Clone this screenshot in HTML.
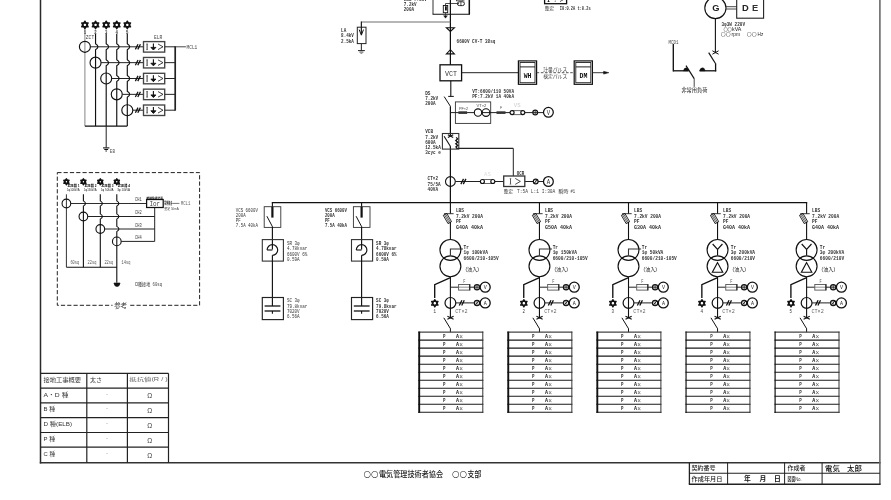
<!DOCTYPE html>
<html lang="ja"><head><meta charset="utf-8"><title>単線結線図</title>
<style>
html,body{margin:0;padding:0;background:#fff;}
body{width:891px;height:500px;overflow:hidden;}
svg{display:block;filter:grayscale(1);}
text.m{font-family:"Liberation Mono","Noto Sans CJK JP",monospace;}
text.j{font-family:"Liberation Sans","Noto Sans CJK JP",sans-serif;}
text.s{font-family:"Liberation Sans","Noto Sans CJK JP",sans-serif;}
text.c{font-family:"Noto Sans CJK JP","Liberation Sans",sans-serif;}
text.d{font-family:"DejaVu Sans","Noto Sans CJK JP",sans-serif;}
</style></head><body>
<svg width="891" height="500" viewBox="0 0 891 500" shape-rendering="geometricPrecision">
<rect x="0" y="0" width="891" height="500" fill="#fff"/>
<g opacity="0.999">
<line x1="40.5" y1="-2" x2="40.5" y2="463.4" stroke="#2a2a2a" stroke-width="1.5"/>
<line x1="39.8" y1="462.7" x2="880.6" y2="462.7" stroke="#333" stroke-width="1.45"/>
<line x1="879.9" y1="-2" x2="879.9" y2="484.6" stroke="#6a6a6a" stroke-width="1.6"/>
<line x1="689.4" y1="462.7" x2="689.4" y2="484.2" stroke="#222" stroke-width="1.3"/>
<line x1="727.6" y1="462.7" x2="727.6" y2="484.2" stroke="#222" stroke-width="1"/>
<line x1="784.6" y1="462.7" x2="784.6" y2="484.2" stroke="#222" stroke-width="1"/>
<line x1="822.1" y1="462.7" x2="822.1" y2="484.2" stroke="#222" stroke-width="1"/>
<line x1="689.4" y1="473.3" x2="879.9" y2="473.3" stroke="#222" stroke-width="1.1"/>
<line x1="688.8" y1="484.2" x2="880.6" y2="484.2" stroke="#222" stroke-width="1.4"/>
<text class="j" x="691.5" y="470.32" font-size="5.6" fill="#222" font-weight="500" textLength="24" lengthAdjust="spacingAndGlyphs">契約番号</text>
<text class="j" x="691.5" y="481.02" font-size="5.6" fill="#222" font-weight="500" textLength="31" lengthAdjust="spacingAndGlyphs">作成年月日</text>
<text class="j" x="744" y="481.45" font-size="6.8" fill="#111" font-weight="bold">年</text>
<text class="j" x="759.5" y="481.45" font-size="6.8" fill="#111" font-weight="bold">月</text>
<text class="j" x="774" y="481.45" font-size="6.8" fill="#111" font-weight="bold">日</text>
<text class="j" x="787.5" y="470.32" font-size="5.6" fill="#222" font-weight="500" textLength="18" lengthAdjust="spacingAndGlyphs">作成者</text>
<text class="j" x="787.5" y="480.87" font-size="5.2" fill="#222" font-weight="500" textLength="14" lengthAdjust="spacingAndGlyphs">図面No.</text>
<text class="j" x="825" y="470.86" font-size="7.4" fill="#111" font-weight="500">電気</text>
<text class="j" x="847" y="470.86" font-size="7.4" fill="#111" font-weight="500">太郎</text>
<text class="d" x="363.4" y="477.36" font-size="9.6" fill="#222" textLength="15.2" lengthAdjust="spacingAndGlyphs">○○</text>
<text class="c" x="379" y="477.14" font-size="7.9" fill="#1a1a1a" font-weight="500" textLength="64" lengthAdjust="spacingAndGlyphs">電気管理技術者協会</text>
<text class="d" x="452" y="477.36" font-size="9.6" fill="#222" textLength="15.2" lengthAdjust="spacingAndGlyphs">○○</text>
<text class="c" x="467.6" y="477.14" font-size="7.9" fill="#1a1a1a" font-weight="500" textLength="13.8" lengthAdjust="spacingAndGlyphs">支部</text>
<line x1="40.5" y1="373.3" x2="168.5" y2="373.3" stroke="#222" stroke-width="1.2"/>
<line x1="40.5" y1="388.1" x2="168.5" y2="388.1" stroke="#222" stroke-width="1.2"/>
<line x1="40.5" y1="402.9" x2="168.5" y2="402.9" stroke="#222" stroke-width="1.2"/>
<line x1="40.5" y1="417.6" x2="168.5" y2="417.6" stroke="#222" stroke-width="1.2"/>
<line x1="40.5" y1="432.5" x2="168.5" y2="432.5" stroke="#222" stroke-width="1.2"/>
<line x1="40.5" y1="447.2" x2="168.5" y2="447.2" stroke="#222" stroke-width="1.2"/>
<line x1="86.8" y1="373.3" x2="86.8" y2="462.7" stroke="#222" stroke-width="1.2"/>
<line x1="127.4" y1="373.3" x2="127.4" y2="462.7" stroke="#222" stroke-width="1.2"/>
<line x1="168.5" y1="373.3" x2="168.5" y2="462.7" stroke="#222" stroke-width="1.2"/>
<text class="j" x="43.6" y="382.22" font-size="5.6" fill="#333" textLength="37.5" lengthAdjust="spacingAndGlyphs">接地工事概要</text>
<text class="j" x="90" y="382.22" font-size="5.6" fill="#333" textLength="12" lengthAdjust="spacingAndGlyphs">太さ</text>
<text class="j" x="129.3" y="381.16" font-size="4.9" fill="#666" textLength="38.5" lengthAdjust="spacingAndGlyphs">抵抗値(R / )</text>
<text class="j" x="43.6" y="396.72" font-size="5.6" fill="#333" textLength="24.8" lengthAdjust="spacingAndGlyphs">A・D 種</text>
<text class="j" x="107.1" y="396.74" font-size="4" fill="#666" text-anchor="middle">・</text>
<text class="s" x="149.7" y="398.28" font-size="6.6" fill="#444" text-anchor="middle">Ω</text>
<text class="j" x="43.6" y="411.47" font-size="5.6" fill="#333" textLength="11.6" lengthAdjust="spacingAndGlyphs">B 種</text>
<text class="j" x="107.1" y="411.49" font-size="4" fill="#666" text-anchor="middle">・</text>
<text class="s" x="149.7" y="413.03" font-size="6.6" fill="#444" text-anchor="middle">Ω</text>
<text class="j" x="43.6" y="426.27" font-size="5.6" fill="#333" textLength="28.5" lengthAdjust="spacingAndGlyphs">D 種(ELB)</text>
<text class="j" x="107.1" y="426.29" font-size="4" fill="#666" text-anchor="middle">・</text>
<text class="s" x="149.7" y="427.83" font-size="6.6" fill="#444" text-anchor="middle">Ω</text>
<text class="j" x="43.6" y="441.07" font-size="5.6" fill="#333" textLength="11.6" lengthAdjust="spacingAndGlyphs">P 種</text>
<text class="j" x="107.1" y="441.09" font-size="4" fill="#666" text-anchor="middle">・</text>
<text class="s" x="149.7" y="442.63" font-size="6.6" fill="#444" text-anchor="middle">Ω</text>
<text class="j" x="43.6" y="456.17" font-size="5.6" fill="#333" textLength="11.6" lengthAdjust="spacingAndGlyphs">C 種</text>
<text class="j" x="107.1" y="456.19" font-size="4" fill="#666" text-anchor="middle">・</text>
<text class="s" x="149.7" y="457.73" font-size="6.6" fill="#444" text-anchor="middle">Ω</text>
<polygon points="84.9,21.15 88.15,26.77 81.65,26.77" fill="none" stroke="#111" stroke-width="1.4" stroke-linejoin="round"/>
<polygon points="84.9,28.65 81.65,23.02 88.15,23.02" fill="none" stroke="#111" stroke-width="1.4" stroke-linejoin="round"/>
<text class="m" x="83.7" y="33.55" font-size="5" textLength="2.4" lengthAdjust="spacingAndGlyphs" fill="#333" font-weight="bold">1</text>
<line x1="84.9" y1="29" x2="84.9" y2="126.1" stroke="#666" stroke-width="0.8"/>
<circle cx="84.9" cy="46.8" r="5.5" fill="none" stroke="#111" stroke-width="1.15"/>
<line x1="90.4" y1="46.8" x2="143.2" y2="46.8" stroke="#222" stroke-width="1"/>
<line x1="135.4" y1="49.4" x2="138" y2="44.2" stroke="#111" stroke-width="1.3"/>
<line x1="137.8" y1="49.4" x2="140.4" y2="44.2" stroke="#111" stroke-width="1.3"/>
<rect x="143.5" y="41.6" width="21.2" height="10.5" fill="none" stroke="#444" stroke-width="1.35"/>
<line x1="147.1" y1="44" x2="147.1" y2="49.6" stroke="#222" stroke-width="0.9"/>
<line x1="146.2" y1="44" x2="148" y2="44" stroke="#333" stroke-width="0.6"/>
<line x1="146.2" y1="49.6" x2="148" y2="49.6" stroke="#333" stroke-width="0.6"/>
<line x1="153.4" y1="43.5" x2="153.4" y2="49.2" stroke="#111" stroke-width="1.1"/>
<polygon points="150.9,47.4 153.4,50 155.9,47.4" fill="#111" stroke="#111" stroke-width="0.9"/>
<polyline points="158,44 163,46.8 158,49.6" fill="none" stroke="#222" stroke-width="0.85"/>
<line x1="164.8" y1="46.8" x2="175" y2="46.8" stroke="#222" stroke-width="1"/>
<polygon points="95.55,21.15 98.8,26.77 92.3,26.77" fill="none" stroke="#111" stroke-width="1.4" stroke-linejoin="round"/>
<polygon points="95.55,28.65 92.3,23.02 98.8,23.02" fill="none" stroke="#111" stroke-width="1.4" stroke-linejoin="round"/>
<text class="m" x="94.35" y="33.55" font-size="5" textLength="2.4" lengthAdjust="spacingAndGlyphs" fill="#333" font-weight="bold">2</text>
<path d="M95.55 33.7 L95.55 43.8 Q100.35 46.8 95.55 49.8 L95.55 126.1" fill="none" stroke="#111" stroke-width="1.15"/>
<circle cx="95.55" cy="62.65" r="5.5" fill="none" stroke="#111" stroke-width="1.15"/>
<line x1="101.05" y1="62.65" x2="143.2" y2="62.65" stroke="#222" stroke-width="1"/>
<line x1="135.4" y1="65.25" x2="138" y2="60.05" stroke="#111" stroke-width="1.3"/>
<line x1="137.8" y1="65.25" x2="140.4" y2="60.05" stroke="#111" stroke-width="1.3"/>
<rect x="143.5" y="57.45" width="21.2" height="10.5" fill="none" stroke="#444" stroke-width="1.35"/>
<line x1="147.1" y1="59.85" x2="147.1" y2="65.45" stroke="#222" stroke-width="0.9"/>
<line x1="146.2" y1="59.85" x2="148" y2="59.85" stroke="#333" stroke-width="0.6"/>
<line x1="146.2" y1="65.45" x2="148" y2="65.45" stroke="#333" stroke-width="0.6"/>
<line x1="153.4" y1="59.35" x2="153.4" y2="65.05" stroke="#111" stroke-width="1.1"/>
<polygon points="150.9,63.25 153.4,65.85 155.9,63.25" fill="#111" stroke="#111" stroke-width="0.9"/>
<polyline points="158,59.85 163,62.65 158,65.45" fill="none" stroke="#222" stroke-width="0.85"/>
<line x1="164.8" y1="62.65" x2="175" y2="62.65" stroke="#222" stroke-width="1"/>
<polygon points="106.2,21.15 109.45,26.77 102.95,26.77" fill="none" stroke="#111" stroke-width="1.4" stroke-linejoin="round"/>
<polygon points="106.2,28.65 102.95,23.02 109.45,23.02" fill="none" stroke="#111" stroke-width="1.4" stroke-linejoin="round"/>
<text class="m" x="105" y="33.55" font-size="5" textLength="2.4" lengthAdjust="spacingAndGlyphs" fill="#333" font-weight="bold">3</text>
<path d="M106.2 33.7 L106.2 43.8 Q111 46.8 106.2 49.8 L106.2 59.65 Q111 62.65 106.2 65.65 L106.2 126.1" fill="none" stroke="#111" stroke-width="1.15"/>
<circle cx="106.2" cy="78.5" r="5.5" fill="none" stroke="#111" stroke-width="1.15"/>
<line x1="111.7" y1="78.5" x2="143.2" y2="78.5" stroke="#222" stroke-width="1"/>
<line x1="135.4" y1="81.1" x2="138" y2="75.9" stroke="#111" stroke-width="1.3"/>
<line x1="137.8" y1="81.1" x2="140.4" y2="75.9" stroke="#111" stroke-width="1.3"/>
<rect x="143.5" y="73.3" width="21.2" height="10.5" fill="none" stroke="#444" stroke-width="1.35"/>
<line x1="147.1" y1="75.7" x2="147.1" y2="81.3" stroke="#222" stroke-width="0.9"/>
<line x1="146.2" y1="75.7" x2="148" y2="75.7" stroke="#333" stroke-width="0.6"/>
<line x1="146.2" y1="81.3" x2="148" y2="81.3" stroke="#333" stroke-width="0.6"/>
<line x1="153.4" y1="75.2" x2="153.4" y2="80.9" stroke="#111" stroke-width="1.1"/>
<polygon points="150.9,79.1 153.4,81.7 155.9,79.1" fill="#111" stroke="#111" stroke-width="0.9"/>
<polyline points="158,75.7 163,78.5 158,81.3" fill="none" stroke="#222" stroke-width="0.85"/>
<line x1="164.8" y1="78.5" x2="175" y2="78.5" stroke="#222" stroke-width="1"/>
<polygon points="116.75,21.15 120,26.77 113.5,26.77" fill="none" stroke="#111" stroke-width="1.4" stroke-linejoin="round"/>
<polygon points="116.75,28.65 113.5,23.02 120,23.02" fill="none" stroke="#111" stroke-width="1.4" stroke-linejoin="round"/>
<text class="m" x="115.55" y="33.55" font-size="5" textLength="2.4" lengthAdjust="spacingAndGlyphs" fill="#333" font-weight="bold">4</text>
<path d="M116.75 33.7 L116.75 43.8 Q121.55 46.8 116.75 49.8 L116.75 59.65 Q121.55 62.65 116.75 65.65 L116.75 75.5 Q121.55 78.5 116.75 81.5 L116.75 126.1" fill="none" stroke="#111" stroke-width="1.15"/>
<circle cx="116.75" cy="94.35" r="5.5" fill="none" stroke="#111" stroke-width="1.15"/>
<line x1="122.25" y1="94.35" x2="143.2" y2="94.35" stroke="#222" stroke-width="1"/>
<line x1="135.4" y1="96.95" x2="138" y2="91.75" stroke="#111" stroke-width="1.3"/>
<line x1="137.8" y1="96.95" x2="140.4" y2="91.75" stroke="#111" stroke-width="1.3"/>
<rect x="143.5" y="89.15" width="21.2" height="10.5" fill="none" stroke="#444" stroke-width="1.35"/>
<line x1="147.1" y1="91.55" x2="147.1" y2="97.15" stroke="#222" stroke-width="0.9"/>
<line x1="146.2" y1="91.55" x2="148" y2="91.55" stroke="#333" stroke-width="0.6"/>
<line x1="146.2" y1="97.15" x2="148" y2="97.15" stroke="#333" stroke-width="0.6"/>
<line x1="153.4" y1="91.05" x2="153.4" y2="96.75" stroke="#111" stroke-width="1.1"/>
<polygon points="150.9,94.95 153.4,97.55 155.9,94.95" fill="#111" stroke="#111" stroke-width="0.9"/>
<polyline points="158,91.55 163,94.35 158,97.15" fill="none" stroke="#222" stroke-width="0.85"/>
<line x1="164.8" y1="94.35" x2="175" y2="94.35" stroke="#222" stroke-width="1"/>
<polygon points="127.3,21.15 130.55,26.77 124.05,26.77" fill="none" stroke="#111" stroke-width="1.4" stroke-linejoin="round"/>
<polygon points="127.3,28.65 124.05,23.02 130.55,23.02" fill="none" stroke="#111" stroke-width="1.4" stroke-linejoin="round"/>
<text class="m" x="126.1" y="33.55" font-size="5" textLength="2.4" lengthAdjust="spacingAndGlyphs" fill="#333" font-weight="bold">5</text>
<path d="M127.3 33.7 L127.3 43.8 Q132.1 46.8 127.3 49.8 L127.3 59.65 Q132.1 62.65 127.3 65.65 L127.3 75.5 Q132.1 78.5 127.3 81.5 L127.3 91.35 Q132.1 94.35 127.3 97.35 L127.3 126.1" fill="none" stroke="#111" stroke-width="1.15"/>
<circle cx="127.3" cy="110.2" r="5.5" fill="none" stroke="#111" stroke-width="1.15"/>
<line x1="132.8" y1="110.2" x2="143.2" y2="110.2" stroke="#222" stroke-width="1"/>
<line x1="135.4" y1="112.8" x2="138" y2="107.6" stroke="#111" stroke-width="1.3"/>
<line x1="137.8" y1="112.8" x2="140.4" y2="107.6" stroke="#111" stroke-width="1.3"/>
<rect x="143.5" y="105" width="21.2" height="10.5" fill="none" stroke="#444" stroke-width="1.35"/>
<line x1="147.1" y1="107.4" x2="147.1" y2="113" stroke="#222" stroke-width="0.9"/>
<line x1="146.2" y1="107.4" x2="148" y2="107.4" stroke="#333" stroke-width="0.6"/>
<line x1="146.2" y1="113" x2="148" y2="113" stroke="#333" stroke-width="0.6"/>
<line x1="153.4" y1="106.9" x2="153.4" y2="112.6" stroke="#111" stroke-width="1.1"/>
<polygon points="150.9,110.8 153.4,113.4 155.9,110.8" fill="#111" stroke="#111" stroke-width="0.9"/>
<polyline points="158,107.4 163,110.2 158,113" fill="none" stroke="#222" stroke-width="0.85"/>
<line x1="164.8" y1="110.2" x2="175" y2="110.2" stroke="#222" stroke-width="1"/>
<line x1="175.2" y1="46.3" x2="175.2" y2="110.7" stroke="#222" stroke-width="1.7"/>
<line x1="175" y1="46.8" x2="185.9" y2="46.8" stroke="#333" stroke-width="0.9"/>
<text class="m" x="186.5" y="48.58" font-size="5.4" textLength="10.8" lengthAdjust="spacingAndGlyphs" fill="#444">MCL1</text>
<text class="m" x="85.8" y="39.18" font-size="5.4" textLength="8.4" lengthAdjust="spacingAndGlyphs" fill="#444">ZCT</text>
<text class="m" x="154" y="39.18" font-size="5.4" textLength="8.4" lengthAdjust="spacingAndGlyphs" fill="#444">ELR</text>
<line x1="84.9" y1="126.1" x2="127.3" y2="126.1" stroke="#111" stroke-width="1.1"/>
<line x1="106.2" y1="126.1" x2="106.2" y2="147.7" stroke="#222" stroke-width="1"/>
<line x1="103" y1="147.9" x2="109.4" y2="147.9" stroke="#111" stroke-width="1.1"/>
<line x1="104.28" y1="149.5" x2="108.12" y2="149.5" stroke="#111" stroke-width="1"/>
<line x1="105.4" y1="151" x2="107" y2="151" stroke="#111" stroke-width="0.9"/>
<text class="m" x="109.8" y="152.85" font-size="5" textLength="5.2" lengthAdjust="spacingAndGlyphs" fill="#555">EB</text>
<rect x="57.3" y="172.6" width="142.3" height="132.7" fill="none" stroke="#222" stroke-width="1" stroke-dasharray="4.2 2.1"/>
<polygon points="66.4,178.85 68.95,183.28 63.85,183.28" fill="none" stroke="#111" stroke-width="1.5" stroke-linejoin="round"/>
<polygon points="66.4,184.75 63.85,180.33 68.95,180.33" fill="none" stroke="#111" stroke-width="1.5" stroke-linejoin="round"/>
<text class="j" x="67.4" y="187.2" font-size="3.6" fill="#111" font-weight="bold" textLength="12.2" lengthAdjust="spacingAndGlyphs">変圧器 1</text>
<text class="s" x="66.8" y="190.95" font-size="4.4" textLength="12.8" lengthAdjust="spacingAndGlyphs" fill="#222">1φ100kVA</text>
<line x1="66.4" y1="194.3" x2="66.4" y2="267.2" stroke="#333" stroke-width="1"/>
<circle cx="66.4" cy="203.5" r="4.35" fill="none" stroke="#111" stroke-width="1.1"/>
<line x1="70.7" y1="203.5" x2="146.5" y2="203.5" stroke="#222" stroke-width="0.95"/>
<text class="m" x="135" y="201.08" font-size="4.8" textLength="6.6" lengthAdjust="spacingAndGlyphs" fill="#333">CH1</text>
<polygon points="83.4,178.85 85.95,183.28 80.85,183.28" fill="none" stroke="#111" stroke-width="1.5" stroke-linejoin="round"/>
<polygon points="83.4,184.75 80.85,180.33 85.95,180.33" fill="none" stroke="#111" stroke-width="1.5" stroke-linejoin="round"/>
<text class="j" x="84.4" y="187.2" font-size="3.6" fill="#111" font-weight="bold" textLength="12.2" lengthAdjust="spacingAndGlyphs">変圧器 2</text>
<text class="s" x="83.8" y="190.95" font-size="4.4" textLength="12.8" lengthAdjust="spacingAndGlyphs" fill="#222">1φ150kVA</text>
<path d="M83.4 194.3 L83.4 200.9 Q87.6 203.5 83.4 206.1 L83.4 267.2" fill="none" stroke="#111" stroke-width="1.1"/>
<circle cx="83.4" cy="216.5" r="4.35" fill="none" stroke="#111" stroke-width="1.1"/>
<line x1="87.7" y1="216.5" x2="154.7" y2="216.5" stroke="#222" stroke-width="1"/>
<text class="m" x="135" y="214.08" font-size="4.8" textLength="6.6" lengthAdjust="spacingAndGlyphs" fill="#333">CH2</text>
<polygon points="100.3,178.85 102.85,183.28 97.75,183.28" fill="none" stroke="#111" stroke-width="1.5" stroke-linejoin="round"/>
<polygon points="100.3,184.75 97.75,180.33 102.85,180.33" fill="none" stroke="#111" stroke-width="1.5" stroke-linejoin="round"/>
<text class="j" x="101.3" y="187.2" font-size="3.6" fill="#111" font-weight="bold" textLength="12.2" lengthAdjust="spacingAndGlyphs">変圧器 3</text>
<text class="s" x="100.7" y="190.95" font-size="4.4" textLength="12.8" lengthAdjust="spacingAndGlyphs" fill="#222">1φ 50kVA</text>
<path d="M100.3 194.3 L100.3 200.9 Q104.5 203.5 100.3 206.1 L100.3 213.9 Q104.5 216.5 100.3 219.1 L100.3 267.2" fill="none" stroke="#111" stroke-width="1.1"/>
<circle cx="100.3" cy="229" r="4.35" fill="none" stroke="#111" stroke-width="1.1"/>
<line x1="104.6" y1="229" x2="154.7" y2="229" stroke="#222" stroke-width="1"/>
<text class="m" x="135" y="226.58" font-size="4.8" textLength="6.6" lengthAdjust="spacingAndGlyphs" fill="#333">CH3</text>
<polygon points="116.8,178.85 119.35,183.28 114.25,183.28" fill="none" stroke="#111" stroke-width="1.5" stroke-linejoin="round"/>
<polygon points="116.8,184.75 114.25,180.33 119.35,180.33" fill="none" stroke="#111" stroke-width="1.5" stroke-linejoin="round"/>
<text class="j" x="117.8" y="187.2" font-size="3.6" fill="#111" font-weight="bold" textLength="12.2" lengthAdjust="spacingAndGlyphs">変圧器 4</text>
<text class="s" x="117.2" y="190.95" font-size="4.4" textLength="12.8" lengthAdjust="spacingAndGlyphs" fill="#222">3φ 10kVA</text>
<path d="M116.8 194.3 L116.8 200.9 Q121 203.5 116.8 206.1 L116.8 213.9 Q121 216.5 116.8 219.1 L116.8 226.4 Q121 229 116.8 231.6 L116.8 282.8" fill="none" stroke="#111" stroke-width="1.1"/>
<circle cx="116.8" cy="241.4" r="4.35" fill="none" stroke="#111" stroke-width="1.1"/>
<line x1="121.1" y1="241.4" x2="154.7" y2="241.4" stroke="#222" stroke-width="1"/>
<text class="m" x="135" y="238.98" font-size="4.8" textLength="6.6" lengthAdjust="spacingAndGlyphs" fill="#333">CH4</text>
<line x1="154.7" y1="207.5" x2="154.7" y2="241.4" stroke="#222" stroke-width="1"/>
<rect x="146.6" y="199.5" width="16.6" height="8" fill="#fff" stroke="#111" stroke-width="1.25"/>
<text class="m" x="149.4" y="205.88" font-size="6.6" textLength="10.8" lengthAdjust="spacingAndGlyphs" fill="#444">Ior</text>
<text class="j" x="146.6" y="198.61" font-size="2.8" fill="#000" font-weight="bold" textLength="16.5" lengthAdjust="spacingAndGlyphs">絶縁監視装置</text>
<text class="j" x="164.2" y="202.79" font-size="2.2" fill="#111" font-weight="bold" textLength="8" lengthAdjust="spacingAndGlyphs">警報接点</text>
<text class="j" x="164.2" y="205.09" font-size="2.2" fill="#111" font-weight="bold" textLength="8" lengthAdjust="spacingAndGlyphs">出力接点</text>
<line x1="172.2" y1="203.4" x2="179.4" y2="203.4" stroke="#555" stroke-width="0.8"/>
<text class="m" x="180.8" y="204.92" font-size="4.6" textLength="9.6" lengthAdjust="spacingAndGlyphs" fill="#666">MCL1</text>
<text class="j" x="164.2" y="210.28" font-size="3" fill="#444" textLength="14.5" lengthAdjust="spacingAndGlyphs">整定 50mA</text>
<line x1="66.4" y1="267.2" x2="117" y2="267.2" stroke="#111" stroke-width="1.1"/>
<text class="m" x="70.4" y="263.82" font-size="4.6" textLength="8.8" lengthAdjust="spacingAndGlyphs" fill="#555">60sq</text>
<text class="m" x="87.6" y="263.82" font-size="4.6" textLength="8.8" lengthAdjust="spacingAndGlyphs" fill="#555">22sq</text>
<text class="m" x="104.4" y="263.82" font-size="4.6" textLength="8.8" lengthAdjust="spacingAndGlyphs" fill="#555">22sq</text>
<text class="m" x="121.6" y="263.82" font-size="4.6" textLength="8.8" lengthAdjust="spacingAndGlyphs" fill="#555">14sq</text>
<path d="M113.9 283 L120.1 283 Q119.5 286.6 117 286.6 Q114.5 286.6 113.9 283 Z" fill="#111" stroke="#111" stroke-width="0.6"/>
<text class="j" x="135.2" y="285.66" font-size="4.6" fill="#333" textLength="15" lengthAdjust="spacingAndGlyphs">D種接地</text>
<text class="m" x="152.5" y="285.72" font-size="4.6" textLength="9.6" lengthAdjust="spacingAndGlyphs" fill="#444">60sq</text>
<rect x="112.5" y="301.5" width="16.5" height="8" fill="#fff" stroke="none" stroke-width="0"/>
<text class="j" x="114.3" y="308.28" font-size="6.6" fill="#333" textLength="12.8" lengthAdjust="spacingAndGlyphs">参考</text>
<line x1="433" y1="-2" x2="433" y2="14.3" stroke="#333" stroke-width="1"/>
<line x1="469.3" y1="-2" x2="469.3" y2="14.3" stroke="#111" stroke-width="1.5"/>
<line x1="432.6" y1="14.3" x2="470" y2="14.3" stroke="#111" stroke-width="1.1"/>
<line x1="445.5" y1="3.5" x2="459" y2="3.5" stroke="#222" stroke-width="0.8"/>
<line x1="445.5" y1="3.5" x2="445.5" y2="5.6" stroke="#222" stroke-width="0.8"/>
<rect x="443.3" y="5.5" width="4.4" height="7.2" fill="none" stroke="#111" stroke-width="0.9"/>
<line x1="445.9" y1="6.3" x2="445.9" y2="10.6" stroke="#111" stroke-width="1.8"/>
<line x1="445.5" y1="12.7" x2="445.5" y2="15.8" stroke="#333" stroke-width="0.8"/>
<polygon points="443.6,15.7 447.4,15.7 445.5,18.2" fill="#111" stroke="#111" stroke-width="0.4"/>
<rect x="457.4" y="1.8" width="7" height="3.8" fill="none" stroke="#222" stroke-width="1" rx="1.9"/>
<line x1="460.9" y1="1.8" x2="460.9" y2="5.6" stroke="#333" stroke-width="0.8"/>
<rect x="456.5" y="-2" width="6.5" height="2.8" fill="none" stroke="#444" stroke-width="0.9"/>
<line x1="463.9" y1="-1" x2="463.9" y2="3" stroke="#777" stroke-width="0.8"/>
<text class="m" x="403.8" y="0.91" font-size="5.8" textLength="23.04" lengthAdjust="spacingAndGlyphs" fill="#333" font-weight="bold">LBS 7.2kV</text>
<text class="m" x="403.8" y="6.01" font-size="5.8" textLength="12.8" lengthAdjust="spacingAndGlyphs" fill="#333" font-weight="bold">7.2kV</text>
<text class="m" x="403.8" y="11.11" font-size="5.8" textLength="10.24" lengthAdjust="spacingAndGlyphs" fill="#333" font-weight="bold">200A</text>
<line x1="450.4" y1="-2" x2="450.4" y2="64.8" stroke="#111" stroke-width="1.25"/>
<polygon points="446.4,27.7 454.4,27.7 450.4,31.4" fill="none" stroke="#111" stroke-width="1.1"/>
<polygon points="446.4,53.9 454.4,53.9 450.4,49.7" fill="none" stroke="#111" stroke-width="1.1"/>
<text class="m" x="456.6" y="42.71" font-size="5.8" textLength="38.7" lengthAdjust="spacingAndGlyphs" fill="#333" font-weight="bold">6600V CV-T 38sq</text>
<line x1="361.35" y1="22" x2="450.4" y2="22" stroke="#666" stroke-width="0.95"/>
<line x1="361.35" y1="21.6" x2="361.35" y2="34" stroke="#111" stroke-width="1.15"/>
<polyline points="359.2,29.6 361.35,35.2 363.5,29.6" fill="none" stroke="#111" stroke-width="1"/>
<rect x="357.3" y="27.2" width="8.7" height="16.4" fill="none" stroke="#222" stroke-width="1"/>
<line x1="361.35" y1="43.6" x2="361.35" y2="50.5" stroke="#222" stroke-width="1"/>
<line x1="358" y1="50.6" x2="364.9" y2="50.6" stroke="#222" stroke-width="1"/>
<line x1="359.4" y1="52.1" x2="363.4" y2="52.1" stroke="#444" stroke-width="0.9"/>
<line x1="360.5" y1="53.5" x2="362.3" y2="53.5" stroke="#777" stroke-width="0.8"/>
<text class="m" x="341.1" y="32.21" font-size="5.8" textLength="5.12" lengthAdjust="spacingAndGlyphs" fill="#333" font-weight="bold">LA</text>
<text class="m" x="341.1" y="37.31" font-size="5.8" textLength="12.8" lengthAdjust="spacingAndGlyphs" fill="#333" font-weight="bold">8.4kV</text>
<text class="m" x="341.1" y="42.91" font-size="5.8" textLength="12.8" lengthAdjust="spacingAndGlyphs" fill="#333" font-weight="bold">2.5kA</text>
<rect x="544.6" y="-3" width="22" height="6.7" fill="none" stroke="#111" stroke-width="1.3"/>
<text class="m" x="547" y="1.95" font-size="5" textLength="16" lengthAdjust="spacingAndGlyphs" fill="#000" font-weight="bold">I ↓ &gt;</text>
<text class="j" x="544.8" y="9.7" font-size="5" fill="#333" textLength="9.5" lengthAdjust="spacingAndGlyphs">整定</text>
<text class="m" x="559.8" y="9.72" font-size="5.2" textLength="30.8" lengthAdjust="spacingAndGlyphs" fill="#333" font-weight="bold">I0:0.2A t:0.2s</text>
<rect x="440" y="64.8" width="21.6" height="16" fill="none" stroke="#111" stroke-width="1.3"/>
<text class="m" x="451" y="75.54" font-size="8" textLength="12" lengthAdjust="spacingAndGlyphs" fill="#333" text-anchor="middle">VCT</text>
<line x1="461.6" y1="72.7" x2="518.4" y2="72.7" stroke="#222" stroke-width="1"/>
<rect x="518.4" y="60.9" width="18.2" height="23.4" fill="none" stroke="#111" stroke-width="1.2"/>
<rect x="520" y="62.5" width="15" height="20.2" fill="none" stroke="#222" stroke-width="0.9"/>
<line x1="520" y1="66.9" x2="535" y2="66.9" stroke="#222" stroke-width="1"/>
<text class="m" x="527.6" y="78.44" font-size="8" textLength="7.8" lengthAdjust="spacingAndGlyphs" fill="#111" text-anchor="middle" font-weight="bold">WH</text>
<rect x="574.2" y="60.9" width="18.2" height="23.4" fill="none" stroke="#111" stroke-width="1.2"/>
<rect x="575.8" y="62.5" width="15" height="20.2" fill="none" stroke="#222" stroke-width="0.9"/>
<line x1="575.8" y1="66.9" x2="590.8" y2="66.9" stroke="#222" stroke-width="1"/>
<text class="m" x="583.4" y="78.44" font-size="8" textLength="7.8" lengthAdjust="spacingAndGlyphs" fill="#111" text-anchor="middle" font-weight="bold">DM</text>
<line x1="536.6" y1="72.7" x2="574.2" y2="72.7" stroke="#444" stroke-width="0.9" stroke-dasharray="2.6 1.6"/>
<text class="j" x="543.2" y="71.46" font-size="4.9" fill="#444" textLength="24" lengthAdjust="spacingAndGlyphs">計量パルス</text>
<text class="j" x="543.2" y="78.16" font-size="4.9" fill="#444" textLength="24" lengthAdjust="spacingAndGlyphs">検定パルス</text>
<line x1="592.4" y1="72.7" x2="606" y2="72.7" stroke="#222" stroke-width="0.9"/>
<polygon points="603.6,71.3 608.9,72.7 603.6,74.1" fill="#111" stroke="#111" stroke-width="0.5"/>
<line x1="450.8" y1="80.8" x2="450.8" y2="96.4" stroke="#111" stroke-width="1.1"/>
<line x1="448.2" y1="96.4" x2="453.8" y2="96.4" stroke="#111" stroke-width="1"/>
<line x1="444.2" y1="96.6" x2="450.6" y2="106.6" stroke="#111" stroke-width="1"/>
<line x1="450.4" y1="106.4" x2="450.4" y2="135.8" stroke="#111" stroke-width="1.25"/>
<line x1="450.4" y1="146.2" x2="450.4" y2="203" stroke="#111" stroke-width="1.25"/>
<text class="m" x="425.2" y="94.51" font-size="5.8" textLength="5.2" lengthAdjust="spacingAndGlyphs" fill="#333" font-weight="bold">DS</text>
<text class="m" x="425.2" y="99.91" font-size="5.8" textLength="13" lengthAdjust="spacingAndGlyphs" fill="#333" font-weight="bold">7.2kV</text>
<text class="m" x="425.2" y="105.31" font-size="5.8" textLength="10.4" lengthAdjust="spacingAndGlyphs" fill="#333" font-weight="bold">200A</text>
<text class="m" x="472.2" y="92.81" font-size="5.8" textLength="41.92" lengthAdjust="spacingAndGlyphs" fill="#333" font-weight="bold">VT:6600/110 50VA</text>
<text class="m" x="472.2" y="98.31" font-size="5.8" textLength="41.92" lengthAdjust="spacingAndGlyphs" fill="#333" font-weight="bold">PF:7.2kV 1A 40kA</text>
<rect x="455.4" y="101.9" width="35.3" height="21.5" fill="none" stroke="#333" stroke-width="0.9"/>
<line x1="450.4" y1="112.6" x2="543.6" y2="112.6" stroke="#222" stroke-width="1"/>
<line x1="458.4" y1="112.6" x2="467.1" y2="112.6" stroke="#333" stroke-width="2.6"/>
<text class="s" x="459" y="110.45" font-size="4.4" textLength="9.2" lengthAdjust="spacingAndGlyphs" fill="#444">PF×2</text>
<circle cx="478" cy="112.6" r="3.7" fill="#fff" stroke="#111" stroke-width="1.1"/>
<circle cx="486" cy="112.6" r="3.8" fill="none" stroke="#111" stroke-width="1.1"/>
<text class="s" x="476.4" y="107.45" font-size="4.4" textLength="10" lengthAdjust="spacingAndGlyphs" fill="#444">VT×2</text>
<line x1="496.5" y1="112.6" x2="505.5" y2="112.6" stroke="#333" stroke-width="2.6"/>
<text class="s" x="500" y="108.85" font-size="4.4" textLength="2.2" lengthAdjust="spacingAndGlyphs" fill="#555">F</text>
<rect x="510.2" y="110.6" width="14.6" height="4" fill="#fff" stroke="#fff" stroke-width="0.01"/>
<line x1="512.1" y1="110.6" x2="522.8" y2="110.6" stroke="#555" stroke-width="0.9"/>
<line x1="512.1" y1="114.6" x2="522.8" y2="114.6" stroke="#555" stroke-width="0.9"/>
<circle cx="512.1" cy="112.6" r="2" fill="#fff" stroke="#111" stroke-width="1.15"/>
<circle cx="522.8" cy="112.6" r="2" fill="#fff" stroke="#111" stroke-width="1.15"/>
<text class="m" x="513.8" y="107.12" font-size="4.6" textLength="6.8" lengthAdjust="spacingAndGlyphs" fill="#ccc">VS</text>
<circle cx="535.2" cy="112.6" r="2.4" fill="#fff" stroke="#111" stroke-width="1.2"/>
<line x1="532.8" y1="112.6" x2="537.6" y2="112.6" stroke="#222" stroke-width="0.9"/>
<line x1="535.2" y1="110.2" x2="535.2" y2="115" stroke="#222" stroke-width="0.9"/>
<circle cx="548.4" cy="112.3" r="4.9" fill="#fff" stroke="#111" stroke-width="1.25"/>
<text class="m" x="548.4" y="114.61" font-size="6.4" textLength="3.4" lengthAdjust="spacingAndGlyphs" fill="#333" text-anchor="middle">V</text>
<rect x="442.4" y="133.5" width="16.4" height="15.6" fill="none" stroke="#333" stroke-width="1.1"/>
<line x1="447.9" y1="134.7" x2="453.2" y2="137.5" stroke="#111" stroke-width="1.1"/>
<line x1="447.9" y1="137.5" x2="453.2" y2="134.7" stroke="#111" stroke-width="1.1"/>
<line x1="444.1" y1="136.3" x2="450.5" y2="146.5" stroke="#111" stroke-width="1.15"/>
<path d="M456.2 137.4 L457.6 138.9 L455.8 140.4 L457.8 142.2 L455.8 143.8 L457.8 145.4 L456.0 146.8 L456.6 148.3" fill="none" stroke="#111" stroke-width="1.3"/>
<line x1="456.2" y1="148.3" x2="513.3" y2="148.3" stroke="#222" stroke-width="1.2"/>
<line x1="513.3" y1="148.4" x2="513.3" y2="176" stroke="#222" stroke-width="1"/>
<text class="m" x="425.2" y="133.21" font-size="5.8" textLength="7.8" lengthAdjust="spacingAndGlyphs" fill="#333" font-weight="bold">VCB</text>
<text class="m" x="425.2" y="138.51" font-size="5.8" textLength="13" lengthAdjust="spacingAndGlyphs" fill="#333" font-weight="bold">7.2kV</text>
<text class="m" x="425.2" y="143.81" font-size="5.8" textLength="10.4" lengthAdjust="spacingAndGlyphs" fill="#333" font-weight="bold">600A</text>
<text class="m" x="425.2" y="149.11" font-size="5.8" textLength="15.6" lengthAdjust="spacingAndGlyphs" fill="#333" font-weight="bold">12.5kA</text>
<text class="m" x="425.2" y="154.41" font-size="5.8" textLength="15.6" lengthAdjust="spacingAndGlyphs" fill="#333" font-weight="bold">3cyc e</text>
<circle cx="450.4" cy="181.5" r="4.9" fill="none" stroke="#111" stroke-width="1.1"/>
<line x1="455.3" y1="181.5" x2="543.6" y2="181.5" stroke="#222" stroke-width="1"/>
<line x1="460.9" y1="184.1" x2="463.5" y2="178.9" stroke="#111" stroke-width="1.3"/>
<line x1="463.3" y1="184.1" x2="465.9" y2="178.9" stroke="#111" stroke-width="1.3"/>
<rect x="480.4" y="179.5" width="14.4" height="4" fill="#fff" stroke="#fff" stroke-width="0.01"/>
<line x1="482.4" y1="179.5" x2="492.8" y2="179.5" stroke="#555" stroke-width="0.9"/>
<line x1="482.4" y1="183.5" x2="492.8" y2="183.5" stroke="#555" stroke-width="0.9"/>
<circle cx="482.4" cy="181.5" r="2" fill="#fff" stroke="#111" stroke-width="1.15"/>
<circle cx="492.8" cy="181.5" r="2" fill="#fff" stroke="#111" stroke-width="1.15"/>
<text class="m" x="484" y="176.12" font-size="4.6" textLength="6.8" lengthAdjust="spacingAndGlyphs" fill="#ddd">AS</text>
<rect x="503.7" y="176" width="21.1" height="10.5" fill="#fff" stroke="#333" stroke-width="1.3"/>
<line x1="510.5" y1="178.6" x2="510.5" y2="184.2" stroke="#333" stroke-width="0.8"/>
<line x1="509.7" y1="178.6" x2="511.3" y2="178.6" stroke="#333" stroke-width="0.5"/>
<line x1="509.7" y1="184.2" x2="511.3" y2="184.2" stroke="#333" stroke-width="0.5"/>
<polyline points="515.2,178.4 520.4,181.4 515.2,184.4" fill="none" stroke="#222" stroke-width="0.8"/>
<text class="m" x="516.8" y="174.58" font-size="4.8" textLength="7.5" lengthAdjust="spacingAndGlyphs" fill="#333" font-weight="bold">OCR</text>
<circle cx="535.7" cy="181.5" r="2.4" fill="#fff" stroke="#111" stroke-width="1.2"/>
<line x1="534" y1="183.3" x2="537.4" y2="179.7" stroke="#222" stroke-width="1"/>
<line x1="535.7" y1="179" x2="535.7" y2="184" stroke="#444" stroke-width="0.6"/>
<circle cx="548.4" cy="181.5" r="4.9" fill="#fff" stroke="#111" stroke-width="1.25"/>
<text class="m" x="548.4" y="183.81" font-size="6.4" textLength="3.4" lengthAdjust="spacingAndGlyphs" fill="#333" text-anchor="middle">A</text>
<text class="j" x="503.8" y="193" font-size="5" fill="#333" textLength="9.2" lengthAdjust="spacingAndGlyphs">整定</text>
<text class="m" x="517" y="193.02" font-size="5.2" textLength="38.36" lengthAdjust="spacingAndGlyphs" fill="#444">T:5A L:1 I:30A</text>
<text class="j" x="558.4" y="193" font-size="5" fill="#333" textLength="10" lengthAdjust="spacingAndGlyphs">瞬時</text>
<text class="m" x="570.5" y="193.02" font-size="5.2" textLength="4.6" lengthAdjust="spacingAndGlyphs" fill="#444">#1</text>
<text class="m" x="427.6" y="180.11" font-size="5.8" textLength="10.4" lengthAdjust="spacingAndGlyphs" fill="#333" font-weight="bold">CT×2</text>
<text class="m" x="427.6" y="185.71" font-size="5.8" textLength="13" lengthAdjust="spacingAndGlyphs" fill="#333" font-weight="bold">75/5A</text>
<text class="m" x="427.6" y="191.31" font-size="5.8" textLength="10.4" lengthAdjust="spacingAndGlyphs" fill="#333" font-weight="bold">40VA</text>
<circle cx="715.4" cy="8" r="10.6" fill="none" stroke="#111" stroke-width="1.1"/>
<text class="s" x="715.8" y="11.3" font-size="9.3" fill="#222" text-anchor="middle" font-weight="bold">G</text>
<line x1="726" y1="6.7" x2="736.6" y2="6.7" stroke="#333" stroke-width="0.9"/>
<line x1="726" y1="9" x2="736.6" y2="9" stroke="#333" stroke-width="0.9"/>
<rect x="736.7" y="-3" width="26.9" height="21.2" fill="none" stroke="#222" stroke-width="1.1"/>
<text class="s" x="745.4" y="11.3" font-size="9.3" fill="#222" text-anchor="middle" font-weight="bold">D</text>
<text class="s" x="755.1" y="11.3" font-size="9.3" fill="#333" text-anchor="middle" font-weight="bold">E</text>
<line x1="715.4" y1="18.6" x2="715.4" y2="53.2" stroke="#111" stroke-width="1.1"/>
<text class="m" x="721.5" y="25.71" font-size="5.8" textLength="23.58" lengthAdjust="spacingAndGlyphs" fill="#333" font-weight="bold">3φ3W 220V</text>
<text class="d" x="723.4" y="30.76" font-size="6" fill="#222" textLength="8.4" lengthAdjust="spacingAndGlyphs">○○</text>
<text class="s" x="732" y="30.8" font-size="5" fill="#222" textLength="9.4" lengthAdjust="spacingAndGlyphs">kVA</text>
<text class="d" x="720.8" y="36" font-size="6.4" fill="#222" textLength="9.8" lengthAdjust="spacingAndGlyphs">○○</text>
<text class="s" x="731.6" y="36.04" font-size="5.4" fill="#222" textLength="8.4" lengthAdjust="spacingAndGlyphs">rpm</text>
<text class="d" x="746.8" y="36" font-size="6.4" fill="#222" textLength="9.8" lengthAdjust="spacingAndGlyphs">○○</text>
<text class="s" x="757.6" y="36.04" font-size="5.4" fill="#222" textLength="5.6" lengthAdjust="spacingAndGlyphs">Hz</text>
<line x1="712.4" y1="50.8" x2="718.6" y2="54.2" stroke="#111" stroke-width="1"/>
<line x1="712.4" y1="54.2" x2="718.6" y2="50.8" stroke="#111" stroke-width="1"/>
<line x1="708.7" y1="52.6" x2="715.6" y2="63.8" stroke="#111" stroke-width="1.15"/>
<line x1="715.6" y1="63.4" x2="715.6" y2="71.4" stroke="#111" stroke-width="1.3"/>
<line x1="699.6" y1="70.8" x2="716.2" y2="70.8" stroke="#111" stroke-width="1.3"/>
<path d="M699.6 70.9 Q700.2 67.6 703 67.8 Q704.8 68.2 705.2 70.9 Z" fill="#111" stroke="#111" stroke-width="0.4"/>
<line x1="673.3" y1="44" x2="673.3" y2="71.4" stroke="#111" stroke-width="1.35"/>
<line x1="673.3" y1="70.8" x2="688.6" y2="70.8" stroke="#111" stroke-width="1.3"/>
<path d="M683.4 70.9 Q684 67.6 686.6 67.8 Q688.4 68.2 688.8 70.9 Z" fill="#111" stroke="#111" stroke-width="0.4"/>
<line x1="686" y1="65.6" x2="694.2" y2="78.6" stroke="#111" stroke-width="1.15"/>
<line x1="694.2" y1="78.4" x2="694.2" y2="86.9" stroke="#333" stroke-width="0.9"/>
<text class="m" x="668.4" y="44.05" font-size="5" textLength="10" lengthAdjust="spacingAndGlyphs" fill="#444">MCD1</text>
<text class="j" x="694.4" y="92.31" font-size="5.3" fill="#222" text-anchor="middle" textLength="26" lengthAdjust="spacingAndGlyphs">非常用負荷</text>
<line x1="271.8" y1="202.6" x2="807.2" y2="202.6" stroke="#111" stroke-width="1.2"/>
<line x1="272.4" y1="202.6" x2="272.4" y2="207" stroke="#111" stroke-width="1.1"/>
<rect x="264.2" y="206.7" width="16.6" height="20.7" fill="none" stroke="#333" stroke-width="0.9"/>
<line x1="272.4" y1="206.7" x2="272.4" y2="217.6" stroke="#111" stroke-width="2.2"/>
<line x1="266.9" y1="216.2" x2="272.4" y2="226.6" stroke="#111" stroke-width="1"/>
<line x1="272.4" y1="226.4" x2="272.4" y2="249.5" stroke="#111" stroke-width="1.15"/>
<text class="m" x="235.8" y="211.61" font-size="5.8" textLength="22.05" lengthAdjust="spacingAndGlyphs" fill="#333" font-weight="normal">VCS 6600V</text>
<text class="m" x="235.8" y="216.81" font-size="5.8" textLength="9.8" lengthAdjust="spacingAndGlyphs" fill="#333" font-weight="normal">200A</text>
<text class="m" x="235.8" y="222.01" font-size="5.8" textLength="4.9" lengthAdjust="spacingAndGlyphs" fill="#333" font-weight="normal">PF</text>
<text class="m" x="235.8" y="227.21" font-size="5.8" textLength="22.05" lengthAdjust="spacingAndGlyphs" fill="#333" font-weight="normal">7.5A 40kA</text>
<rect x="262.3" y="239.6" width="21.1" height="21.5" fill="none" stroke="#333" stroke-width="1.1"/>
<path d="M267.1 250 A5.3 5.3 0 1 1 272.4 255.3" fill="none" stroke="#111" stroke-width="1.15"/>
<line x1="267.1" y1="250" x2="272.4" y2="250" stroke="#111" stroke-width="1.1"/>
<line x1="272.4" y1="255.3" x2="272.4" y2="306" stroke="#111" stroke-width="1.15"/>
<text class="m" x="286.9" y="245.01" font-size="5.8" textLength="12.75" lengthAdjust="spacingAndGlyphs" fill="#333" font-weight="normal">SR 3φ</text>
<text class="m" x="286.9" y="250.31" font-size="5.8" textLength="20.4" lengthAdjust="spacingAndGlyphs" fill="#333" font-weight="normal">4.78kvar</text>
<text class="m" x="286.9" y="255.61" font-size="5.8" textLength="20.4" lengthAdjust="spacingAndGlyphs" fill="#333" font-weight="normal">6600V 6%</text>
<text class="m" x="286.9" y="260.91" font-size="5.8" textLength="12.75" lengthAdjust="spacingAndGlyphs" fill="#333" font-weight="normal">0.59A</text>
<rect x="262.3" y="297.5" width="21.1" height="22.1" fill="none" stroke="#222" stroke-width="1.15"/>
<line x1="264.6" y1="306" x2="280.4" y2="306" stroke="#111" stroke-width="1.3"/>
<line x1="264.6" y1="311" x2="280.4" y2="311" stroke="#111" stroke-width="1.3"/>
<line x1="272.4" y1="311" x2="272.4" y2="313.8" stroke="#111" stroke-width="1.1"/>
<text class="m" x="286.9" y="302.41" font-size="5.8" textLength="12.75" lengthAdjust="spacingAndGlyphs" fill="#333" font-weight="normal">SC 3φ</text>
<text class="m" x="286.9" y="307.71" font-size="5.8" textLength="20.4" lengthAdjust="spacingAndGlyphs" fill="#333" font-weight="normal">79.8kvar</text>
<text class="m" x="286.9" y="313.01" font-size="5.8" textLength="12.75" lengthAdjust="spacingAndGlyphs" fill="#333" font-weight="normal">7020V</text>
<text class="m" x="286.9" y="318.31" font-size="5.8" textLength="12.75" lengthAdjust="spacingAndGlyphs" fill="#333" font-weight="normal">6.56A</text>
<line x1="361.6" y1="202.6" x2="361.6" y2="207" stroke="#111" stroke-width="1.1"/>
<rect x="353.4" y="206.7" width="16.6" height="20.7" fill="none" stroke="#333" stroke-width="0.9"/>
<line x1="361.6" y1="206.7" x2="361.6" y2="217.6" stroke="#111" stroke-width="2.2"/>
<line x1="356.1" y1="216.2" x2="361.6" y2="226.6" stroke="#111" stroke-width="1"/>
<line x1="361.6" y1="226.4" x2="361.6" y2="249.5" stroke="#111" stroke-width="1.15"/>
<text class="m" x="324.9" y="211.61" font-size="5.8" textLength="22.05" lengthAdjust="spacingAndGlyphs" fill="#333" font-weight="bold">VCS 6600V</text>
<text class="m" x="324.9" y="216.81" font-size="5.8" textLength="9.8" lengthAdjust="spacingAndGlyphs" fill="#333" font-weight="bold">200A</text>
<text class="m" x="324.9" y="222.01" font-size="5.8" textLength="4.9" lengthAdjust="spacingAndGlyphs" fill="#333" font-weight="bold">PF</text>
<text class="m" x="324.9" y="227.21" font-size="5.8" textLength="22.05" lengthAdjust="spacingAndGlyphs" fill="#333" font-weight="bold">7.5A 40kA</text>
<rect x="351.5" y="239.6" width="21.1" height="21.5" fill="none" stroke="#333" stroke-width="1.1"/>
<path d="M356.3 250 A5.3 5.3 0 1 1 361.6 255.3" fill="none" stroke="#111" stroke-width="1.15"/>
<line x1="356.3" y1="250" x2="361.6" y2="250" stroke="#111" stroke-width="1.1"/>
<line x1="361.6" y1="255.3" x2="361.6" y2="306" stroke="#111" stroke-width="1.15"/>
<text class="m" x="376.1" y="245.01" font-size="5.8" textLength="12.75" lengthAdjust="spacingAndGlyphs" fill="#333" font-weight="bold">SR 3φ</text>
<text class="m" x="376.1" y="250.31" font-size="5.8" textLength="20.4" lengthAdjust="spacingAndGlyphs" fill="#333" font-weight="bold">4.78kvar</text>
<text class="m" x="376.1" y="255.61" font-size="5.8" textLength="20.4" lengthAdjust="spacingAndGlyphs" fill="#333" font-weight="bold">6600V 6%</text>
<text class="m" x="376.1" y="260.91" font-size="5.8" textLength="12.75" lengthAdjust="spacingAndGlyphs" fill="#333" font-weight="bold">0.59A</text>
<rect x="351.5" y="297.5" width="21.1" height="22.1" fill="none" stroke="#222" stroke-width="1.15"/>
<line x1="353.8" y1="306" x2="369.6" y2="306" stroke="#111" stroke-width="1.3"/>
<line x1="353.8" y1="311" x2="369.6" y2="311" stroke="#111" stroke-width="1.3"/>
<line x1="361.6" y1="311" x2="361.6" y2="313.8" stroke="#111" stroke-width="1.1"/>
<text class="m" x="376.1" y="302.41" font-size="5.8" textLength="12.75" lengthAdjust="spacingAndGlyphs" fill="#333" font-weight="bold">SC 3φ</text>
<text class="m" x="376.1" y="307.71" font-size="5.8" textLength="20.4" lengthAdjust="spacingAndGlyphs" fill="#333" font-weight="bold">79.8kvar</text>
<text class="m" x="376.1" y="313.01" font-size="5.8" textLength="12.75" lengthAdjust="spacingAndGlyphs" fill="#333" font-weight="bold">7020V</text>
<text class="m" x="376.1" y="318.31" font-size="5.8" textLength="12.75" lengthAdjust="spacingAndGlyphs" fill="#333" font-weight="bold">6.56A</text>
<line x1="450.4" y1="202.6" x2="450.4" y2="213.7" stroke="#111" stroke-width="1.1"/>
<line x1="444" y1="213.7" x2="453.6" y2="213.7" stroke="#222" stroke-width="0.9"/>
<polygon points="443.27,215.34 448.07,223.66 451.53,221.66 446.73,213.34" fill="none" stroke="#111" stroke-width="0.9"/>
<line x1="444.44" y1="214.67" x2="449.24" y2="222.98" stroke="#222" stroke-width="0.7"/>
<line x1="445.56" y1="214.02" x2="450.36" y2="222.33" stroke="#222" stroke-width="0.7"/>
<line x1="450.4" y1="222" x2="450.4" y2="239.4" stroke="#111" stroke-width="1.1"/>
<text class="m" x="455.9" y="212.11" font-size="5.8" textLength="8.1" lengthAdjust="spacingAndGlyphs" fill="#333" font-weight="bold">LBS</text>
<text class="m" x="455.9" y="217.61" font-size="5.8" textLength="27" lengthAdjust="spacingAndGlyphs" fill="#333" font-weight="bold">7.2kV 200A</text>
<text class="m" x="455.9" y="223.11" font-size="5.8" textLength="5.4" lengthAdjust="spacingAndGlyphs" fill="#333" font-weight="bold">PF</text>
<text class="m" x="455.9" y="228.61" font-size="5.8" textLength="27" lengthAdjust="spacingAndGlyphs" fill="#333" font-weight="bold">G40A  40kA</text>
<circle cx="450.4" cy="249.9" r="10.45" fill="none" stroke="#111" stroke-width="1.15"/>
<circle cx="450.4" cy="266.3" r="10.45" fill="none" stroke="#111" stroke-width="1.15"/>
<polyline points="463,249 450.4,249 450.4,255.6" fill="none" stroke="#333" stroke-width="1.1"/>
<text class="m" x="463.6" y="248.91" font-size="5.8" textLength="5.4" lengthAdjust="spacingAndGlyphs" fill="#333" font-weight="bold">Tr</text>
<text class="m" x="463.6" y="254.41" font-size="5.8" textLength="24.3" lengthAdjust="spacingAndGlyphs" fill="#333" font-weight="bold">1φ 100kVA</text>
<text class="m" x="463.6" y="259.91" font-size="5.8" textLength="35.1" lengthAdjust="spacingAndGlyphs" fill="#333" font-weight="bold">6600/210-105V</text>
<text class="j" x="465.4" y="270.8" font-size="5" fill="#222" textLength="13.5" lengthAdjust="spacingAndGlyphs">(油入)</text>
<line x1="450.4" y1="276.7" x2="450.4" y2="318.2" stroke="#111" stroke-width="1.1"/>
<polyline points="450.4,277.6 434.7,284.6 434.7,298" fill="none" stroke="#111" stroke-width="1.35"/>
<polygon points="434.8,299.55 438.05,305.18 431.55,305.18" fill="none" stroke="#111" stroke-width="1.25" stroke-linejoin="round"/>
<polygon points="434.8,307.05 431.55,301.43 438.05,301.43" fill="none" stroke="#111" stroke-width="1.25" stroke-linejoin="round"/>
<text class="m" x="433.4" y="313.22" font-size="5.2" textLength="2.5" lengthAdjust="spacingAndGlyphs" fill="#333">1</text>
<line x1="450.4" y1="287.2" x2="458.6" y2="287.2" stroke="#222" stroke-width="1"/>
<rect x="458.6" y="284.5" width="11.3" height="5.6" fill="none" stroke="#555" stroke-width="0.9"/>
<line x1="458.6" y1="287.2" x2="469.9" y2="287.2" stroke="#777" stroke-width="0.8"/>
<line x1="469.6" y1="284.3" x2="469.6" y2="290.3" stroke="#333" stroke-width="1.2"/>
<text class="m" x="463.2" y="283.12" font-size="4.6" textLength="2.2" lengthAdjust="spacingAndGlyphs" fill="#555">F</text>
<line x1="469.7" y1="287.2" x2="480.4" y2="287.2" stroke="#222" stroke-width="1"/>
<circle cx="477" cy="287.2" r="2.6" fill="#fff" stroke="#111" stroke-width="1.25"/>
<line x1="474.4" y1="287.2" x2="479.6" y2="287.2" stroke="#222" stroke-width="0.9"/>
<line x1="477" y1="284.6" x2="477" y2="289.8" stroke="#222" stroke-width="0.9"/>
<circle cx="485.2" cy="287.2" r="5" fill="#fff" stroke="#111" stroke-width="1.3"/>
<text class="m" x="485.3" y="289.28" font-size="6" textLength="3" lengthAdjust="spacingAndGlyphs" fill="#222" text-anchor="middle">V</text>
<circle cx="450.4" cy="302.9" r="5.4" fill="none" stroke="#111" stroke-width="1.2"/>
<line x1="455.8" y1="302.9" x2="480.4" y2="302.9" stroke="#222" stroke-width="1"/>
<line x1="459.3" y1="305.5" x2="461.9" y2="300.3" stroke="#111" stroke-width="1.3"/>
<line x1="461.7" y1="305.5" x2="464.3" y2="300.3" stroke="#111" stroke-width="1.3"/>
<circle cx="477" cy="302.9" r="2.6" fill="#fff" stroke="#111" stroke-width="1.25"/>
<line x1="475.2" y1="304.8" x2="478.8" y2="301" stroke="#222" stroke-width="1"/>
<line x1="477" y1="300.3" x2="477" y2="305.5" stroke="#333" stroke-width="0.8"/>
<circle cx="485.2" cy="302.9" r="5" fill="#fff" stroke="#111" stroke-width="1.3"/>
<text class="m" x="485.3" y="304.98" font-size="6" textLength="3" lengthAdjust="spacingAndGlyphs" fill="#222" text-anchor="middle">A</text>
<text class="m" x="455.2" y="313.35" font-size="5.6" textLength="12.4" lengthAdjust="spacingAndGlyphs" fill="#666">CT×2</text>
<line x1="447.4" y1="316.3" x2="453.6" y2="319.3" stroke="#111" stroke-width="1.1"/>
<line x1="447.4" y1="319.3" x2="453.6" y2="316.3" stroke="#111" stroke-width="1.1"/>
<line x1="443.8" y1="317.8" x2="450.5" y2="328.8" stroke="#111" stroke-width="1"/>
<line x1="450.4" y1="328.6" x2="450.4" y2="332.2" stroke="#111" stroke-width="1"/>
<line x1="418.3" y1="332.1" x2="483.3" y2="332.1" stroke="#444" stroke-width="1.1"/>
<line x1="418.3" y1="340.12" x2="483.3" y2="340.12" stroke="#1a1a1a" stroke-width="1.1"/>
<line x1="418.3" y1="348.14" x2="483.3" y2="348.14" stroke="#1a1a1a" stroke-width="1.1"/>
<line x1="418.3" y1="356.16" x2="483.3" y2="356.16" stroke="#1a1a1a" stroke-width="1.1"/>
<line x1="418.3" y1="364.18" x2="483.3" y2="364.18" stroke="#1a1a1a" stroke-width="1.1"/>
<line x1="418.3" y1="372.2" x2="483.3" y2="372.2" stroke="#1a1a1a" stroke-width="1.1"/>
<line x1="418.3" y1="380.22" x2="483.3" y2="380.22" stroke="#1a1a1a" stroke-width="1.1"/>
<line x1="418.3" y1="388.24" x2="483.3" y2="388.24" stroke="#1a1a1a" stroke-width="1.1"/>
<line x1="418.3" y1="396.26" x2="483.3" y2="396.26" stroke="#1a1a1a" stroke-width="1.1"/>
<line x1="418.3" y1="404.28" x2="483.3" y2="404.28" stroke="#1a1a1a" stroke-width="1.1"/>
<line x1="418.3" y1="412.3" x2="483.3" y2="412.3" stroke="#1a1a1a" stroke-width="1.1"/>
<line x1="419.2" y1="331.6" x2="419.2" y2="412.9" stroke="#111" stroke-width="1.9"/>
<line x1="482.8" y1="331.6" x2="482.8" y2="412.9" stroke="#333" stroke-width="1"/>
<text class="m" x="443" y="337.75" font-size="5" textLength="2.5" lengthAdjust="spacingAndGlyphs" fill="#333" font-weight="bold">P</text>
<text class="m" x="456" y="338.38" font-size="5.4" textLength="3" lengthAdjust="spacingAndGlyphs" fill="#222" font-weight="bold">A</text>
<text class="s" x="459.2" y="338.9" font-size="6.4" fill="#555">×</text>
<text class="m" x="443" y="345.75" font-size="5" textLength="2.5" lengthAdjust="spacingAndGlyphs" fill="#333" font-weight="bold">P</text>
<text class="m" x="456" y="346.38" font-size="5.4" textLength="3" lengthAdjust="spacingAndGlyphs" fill="#222" font-weight="bold">A</text>
<text class="s" x="459.2" y="346.9" font-size="6.4" fill="#555">×</text>
<text class="m" x="443" y="353.75" font-size="5" textLength="2.5" lengthAdjust="spacingAndGlyphs" fill="#333" font-weight="bold">P</text>
<text class="m" x="456" y="354.38" font-size="5.4" textLength="3" lengthAdjust="spacingAndGlyphs" fill="#222" font-weight="bold">A</text>
<text class="s" x="459.2" y="354.9" font-size="6.4" fill="#555">×</text>
<text class="m" x="443" y="361.75" font-size="5" textLength="2.5" lengthAdjust="spacingAndGlyphs" fill="#333" font-weight="bold">P</text>
<text class="m" x="456" y="362.38" font-size="5.4" textLength="3" lengthAdjust="spacingAndGlyphs" fill="#222" font-weight="bold">A</text>
<text class="s" x="459.2" y="362.9" font-size="6.4" fill="#555">×</text>
<text class="m" x="443" y="369.75" font-size="5" textLength="2.5" lengthAdjust="spacingAndGlyphs" fill="#333" font-weight="bold">P</text>
<text class="m" x="456" y="370.38" font-size="5.4" textLength="3" lengthAdjust="spacingAndGlyphs" fill="#222" font-weight="bold">A</text>
<text class="s" x="459.2" y="370.9" font-size="6.4" fill="#555">×</text>
<text class="m" x="443" y="377.75" font-size="5" textLength="2.5" lengthAdjust="spacingAndGlyphs" fill="#333" font-weight="bold">P</text>
<text class="m" x="456" y="378.38" font-size="5.4" textLength="3" lengthAdjust="spacingAndGlyphs" fill="#222" font-weight="bold">A</text>
<text class="s" x="459.2" y="378.9" font-size="6.4" fill="#555">×</text>
<text class="m" x="443" y="385.75" font-size="5" textLength="2.5" lengthAdjust="spacingAndGlyphs" fill="#333" font-weight="bold">P</text>
<text class="m" x="456" y="386.38" font-size="5.4" textLength="3" lengthAdjust="spacingAndGlyphs" fill="#222" font-weight="bold">A</text>
<text class="s" x="459.2" y="386.9" font-size="6.4" fill="#555">×</text>
<text class="m" x="443" y="393.75" font-size="5" textLength="2.5" lengthAdjust="spacingAndGlyphs" fill="#333" font-weight="bold">P</text>
<text class="m" x="456" y="394.38" font-size="5.4" textLength="3" lengthAdjust="spacingAndGlyphs" fill="#222" font-weight="bold">A</text>
<text class="s" x="459.2" y="394.9" font-size="6.4" fill="#555">×</text>
<text class="m" x="443" y="401.75" font-size="5" textLength="2.5" lengthAdjust="spacingAndGlyphs" fill="#333" font-weight="bold">P</text>
<text class="m" x="456" y="402.38" font-size="5.4" textLength="3" lengthAdjust="spacingAndGlyphs" fill="#222" font-weight="bold">A</text>
<text class="s" x="459.2" y="402.9" font-size="6.4" fill="#555">×</text>
<text class="m" x="443" y="409.75" font-size="5" textLength="2.5" lengthAdjust="spacingAndGlyphs" fill="#333" font-weight="bold">P</text>
<text class="m" x="456" y="410.38" font-size="5.4" textLength="3" lengthAdjust="spacingAndGlyphs" fill="#222" font-weight="bold">A</text>
<text class="s" x="459.2" y="410.9" font-size="6.4" fill="#555">×</text>
<line x1="539.45" y1="202.6" x2="539.45" y2="213.7" stroke="#111" stroke-width="1.1"/>
<line x1="533.05" y1="213.7" x2="542.65" y2="213.7" stroke="#222" stroke-width="0.9"/>
<polygon points="532.32,215.34 537.12,223.66 540.58,221.66 535.78,213.34" fill="none" stroke="#111" stroke-width="0.9"/>
<line x1="533.49" y1="214.67" x2="538.29" y2="222.98" stroke="#222" stroke-width="0.7"/>
<line x1="534.61" y1="214.02" x2="539.41" y2="222.33" stroke="#222" stroke-width="0.7"/>
<line x1="539.45" y1="222" x2="539.45" y2="239.4" stroke="#111" stroke-width="1.1"/>
<text class="m" x="544.95" y="212.11" font-size="5.8" textLength="8.1" lengthAdjust="spacingAndGlyphs" fill="#333" font-weight="bold">LBS</text>
<text class="m" x="544.95" y="217.61" font-size="5.8" textLength="27" lengthAdjust="spacingAndGlyphs" fill="#333" font-weight="bold">7.2kV 200A</text>
<text class="m" x="544.95" y="223.11" font-size="5.8" textLength="5.4" lengthAdjust="spacingAndGlyphs" fill="#333" font-weight="bold">PF</text>
<text class="m" x="544.95" y="228.61" font-size="5.8" textLength="27" lengthAdjust="spacingAndGlyphs" fill="#333" font-weight="bold">G50A  40kA</text>
<circle cx="539.45" cy="249.9" r="10.45" fill="none" stroke="#111" stroke-width="1.15"/>
<circle cx="539.45" cy="266.3" r="10.45" fill="none" stroke="#111" stroke-width="1.15"/>
<polyline points="552.05,249 539.45,249 539.45,255.6" fill="none" stroke="#333" stroke-width="1.1"/>
<text class="m" x="552.65" y="248.91" font-size="5.8" textLength="5.4" lengthAdjust="spacingAndGlyphs" fill="#333" font-weight="bold">Tr</text>
<text class="m" x="552.65" y="254.41" font-size="5.8" textLength="24.3" lengthAdjust="spacingAndGlyphs" fill="#333" font-weight="bold">1φ 150kVA</text>
<text class="m" x="552.65" y="259.91" font-size="5.8" textLength="35.1" lengthAdjust="spacingAndGlyphs" fill="#333" font-weight="bold">6600/210-105V</text>
<text class="j" x="554.45" y="270.8" font-size="5" fill="#222" textLength="13.5" lengthAdjust="spacingAndGlyphs">(油入)</text>
<line x1="539.45" y1="276.7" x2="539.45" y2="318.2" stroke="#111" stroke-width="1.1"/>
<polyline points="539.45,277.6 523.75,284.6 523.75,298" fill="none" stroke="#111" stroke-width="1.35"/>
<polygon points="523.85,299.55 527.1,305.18 520.6,305.18" fill="none" stroke="#111" stroke-width="1.25" stroke-linejoin="round"/>
<polygon points="523.85,307.05 520.6,301.43 527.1,301.43" fill="none" stroke="#111" stroke-width="1.25" stroke-linejoin="round"/>
<text class="m" x="522.45" y="313.22" font-size="5.2" textLength="2.5" lengthAdjust="spacingAndGlyphs" fill="#333">2</text>
<line x1="539.45" y1="287.2" x2="547.65" y2="287.2" stroke="#222" stroke-width="1"/>
<rect x="547.65" y="284.5" width="11.3" height="5.6" fill="none" stroke="#555" stroke-width="0.9"/>
<line x1="547.65" y1="287.2" x2="558.95" y2="287.2" stroke="#777" stroke-width="0.8"/>
<line x1="558.65" y1="284.3" x2="558.65" y2="290.3" stroke="#333" stroke-width="1.2"/>
<text class="m" x="552.25" y="283.12" font-size="4.6" textLength="2.2" lengthAdjust="spacingAndGlyphs" fill="#555">F</text>
<line x1="558.75" y1="287.2" x2="569.45" y2="287.2" stroke="#222" stroke-width="1"/>
<circle cx="566.05" cy="287.2" r="2.6" fill="#fff" stroke="#111" stroke-width="1.25"/>
<line x1="563.45" y1="287.2" x2="568.65" y2="287.2" stroke="#222" stroke-width="0.9"/>
<line x1="566.05" y1="284.6" x2="566.05" y2="289.8" stroke="#222" stroke-width="0.9"/>
<circle cx="574.25" cy="287.2" r="5" fill="#fff" stroke="#111" stroke-width="1.3"/>
<text class="m" x="574.35" y="289.28" font-size="6" textLength="3" lengthAdjust="spacingAndGlyphs" fill="#222" text-anchor="middle">V</text>
<circle cx="539.45" cy="302.9" r="5.4" fill="none" stroke="#111" stroke-width="1.2"/>
<line x1="544.85" y1="302.9" x2="569.45" y2="302.9" stroke="#222" stroke-width="1"/>
<line x1="548.35" y1="305.5" x2="550.95" y2="300.3" stroke="#111" stroke-width="1.3"/>
<line x1="550.75" y1="305.5" x2="553.35" y2="300.3" stroke="#111" stroke-width="1.3"/>
<circle cx="566.05" cy="302.9" r="2.6" fill="#fff" stroke="#111" stroke-width="1.25"/>
<line x1="564.25" y1="304.8" x2="567.85" y2="301" stroke="#222" stroke-width="1"/>
<line x1="566.05" y1="300.3" x2="566.05" y2="305.5" stroke="#333" stroke-width="0.8"/>
<circle cx="574.25" cy="302.9" r="5" fill="#fff" stroke="#111" stroke-width="1.3"/>
<text class="m" x="574.35" y="304.98" font-size="6" textLength="3" lengthAdjust="spacingAndGlyphs" fill="#222" text-anchor="middle">A</text>
<text class="m" x="544.25" y="313.35" font-size="5.6" textLength="12.4" lengthAdjust="spacingAndGlyphs" fill="#666">CT×2</text>
<line x1="536.45" y1="316.3" x2="542.65" y2="319.3" stroke="#111" stroke-width="1.1"/>
<line x1="536.45" y1="319.3" x2="542.65" y2="316.3" stroke="#111" stroke-width="1.1"/>
<line x1="532.85" y1="317.8" x2="539.55" y2="328.8" stroke="#111" stroke-width="1"/>
<line x1="539.45" y1="328.6" x2="539.45" y2="332.2" stroke="#111" stroke-width="1"/>
<line x1="507.35" y1="332.1" x2="572.35" y2="332.1" stroke="#444" stroke-width="1.1"/>
<line x1="507.35" y1="340.12" x2="572.35" y2="340.12" stroke="#1a1a1a" stroke-width="1.1"/>
<line x1="507.35" y1="348.14" x2="572.35" y2="348.14" stroke="#1a1a1a" stroke-width="1.1"/>
<line x1="507.35" y1="356.16" x2="572.35" y2="356.16" stroke="#1a1a1a" stroke-width="1.1"/>
<line x1="507.35" y1="364.18" x2="572.35" y2="364.18" stroke="#1a1a1a" stroke-width="1.1"/>
<line x1="507.35" y1="372.2" x2="572.35" y2="372.2" stroke="#1a1a1a" stroke-width="1.1"/>
<line x1="507.35" y1="380.22" x2="572.35" y2="380.22" stroke="#1a1a1a" stroke-width="1.1"/>
<line x1="507.35" y1="388.24" x2="572.35" y2="388.24" stroke="#1a1a1a" stroke-width="1.1"/>
<line x1="507.35" y1="396.26" x2="572.35" y2="396.26" stroke="#1a1a1a" stroke-width="1.1"/>
<line x1="507.35" y1="404.28" x2="572.35" y2="404.28" stroke="#1a1a1a" stroke-width="1.1"/>
<line x1="507.35" y1="412.3" x2="572.35" y2="412.3" stroke="#1a1a1a" stroke-width="1.1"/>
<line x1="508.25" y1="331.6" x2="508.25" y2="412.9" stroke="#111" stroke-width="1.9"/>
<line x1="571.85" y1="331.6" x2="571.85" y2="412.9" stroke="#333" stroke-width="1"/>
<text class="m" x="532.05" y="337.75" font-size="5" textLength="2.5" lengthAdjust="spacingAndGlyphs" fill="#333" font-weight="bold">P</text>
<text class="m" x="545.05" y="338.38" font-size="5.4" textLength="3" lengthAdjust="spacingAndGlyphs" fill="#222" font-weight="bold">A</text>
<text class="s" x="548.25" y="338.9" font-size="6.4" fill="#555">×</text>
<text class="m" x="532.05" y="345.75" font-size="5" textLength="2.5" lengthAdjust="spacingAndGlyphs" fill="#333" font-weight="bold">P</text>
<text class="m" x="545.05" y="346.38" font-size="5.4" textLength="3" lengthAdjust="spacingAndGlyphs" fill="#222" font-weight="bold">A</text>
<text class="s" x="548.25" y="346.9" font-size="6.4" fill="#555">×</text>
<text class="m" x="532.05" y="353.75" font-size="5" textLength="2.5" lengthAdjust="spacingAndGlyphs" fill="#333" font-weight="bold">P</text>
<text class="m" x="545.05" y="354.38" font-size="5.4" textLength="3" lengthAdjust="spacingAndGlyphs" fill="#222" font-weight="bold">A</text>
<text class="s" x="548.25" y="354.9" font-size="6.4" fill="#555">×</text>
<text class="m" x="532.05" y="361.75" font-size="5" textLength="2.5" lengthAdjust="spacingAndGlyphs" fill="#333" font-weight="bold">P</text>
<text class="m" x="545.05" y="362.38" font-size="5.4" textLength="3" lengthAdjust="spacingAndGlyphs" fill="#222" font-weight="bold">A</text>
<text class="s" x="548.25" y="362.9" font-size="6.4" fill="#555">×</text>
<text class="m" x="532.05" y="369.75" font-size="5" textLength="2.5" lengthAdjust="spacingAndGlyphs" fill="#333" font-weight="bold">P</text>
<text class="m" x="545.05" y="370.38" font-size="5.4" textLength="3" lengthAdjust="spacingAndGlyphs" fill="#222" font-weight="bold">A</text>
<text class="s" x="548.25" y="370.9" font-size="6.4" fill="#555">×</text>
<text class="m" x="532.05" y="377.75" font-size="5" textLength="2.5" lengthAdjust="spacingAndGlyphs" fill="#333" font-weight="bold">P</text>
<text class="m" x="545.05" y="378.38" font-size="5.4" textLength="3" lengthAdjust="spacingAndGlyphs" fill="#222" font-weight="bold">A</text>
<text class="s" x="548.25" y="378.9" font-size="6.4" fill="#555">×</text>
<text class="m" x="532.05" y="385.75" font-size="5" textLength="2.5" lengthAdjust="spacingAndGlyphs" fill="#333" font-weight="bold">P</text>
<text class="m" x="545.05" y="386.38" font-size="5.4" textLength="3" lengthAdjust="spacingAndGlyphs" fill="#222" font-weight="bold">A</text>
<text class="s" x="548.25" y="386.9" font-size="6.4" fill="#555">×</text>
<text class="m" x="532.05" y="393.75" font-size="5" textLength="2.5" lengthAdjust="spacingAndGlyphs" fill="#333" font-weight="bold">P</text>
<text class="m" x="545.05" y="394.38" font-size="5.4" textLength="3" lengthAdjust="spacingAndGlyphs" fill="#222" font-weight="bold">A</text>
<text class="s" x="548.25" y="394.9" font-size="6.4" fill="#555">×</text>
<text class="m" x="532.05" y="401.75" font-size="5" textLength="2.5" lengthAdjust="spacingAndGlyphs" fill="#333" font-weight="bold">P</text>
<text class="m" x="545.05" y="402.38" font-size="5.4" textLength="3" lengthAdjust="spacingAndGlyphs" fill="#222" font-weight="bold">A</text>
<text class="s" x="548.25" y="402.9" font-size="6.4" fill="#555">×</text>
<text class="m" x="532.05" y="409.75" font-size="5" textLength="2.5" lengthAdjust="spacingAndGlyphs" fill="#333" font-weight="bold">P</text>
<text class="m" x="545.05" y="410.38" font-size="5.4" textLength="3" lengthAdjust="spacingAndGlyphs" fill="#222" font-weight="bold">A</text>
<text class="s" x="548.25" y="410.9" font-size="6.4" fill="#555">×</text>
<line x1="628.5" y1="202.6" x2="628.5" y2="213.7" stroke="#111" stroke-width="1.1"/>
<line x1="622.1" y1="213.7" x2="631.7" y2="213.7" stroke="#222" stroke-width="0.9"/>
<polygon points="621.37,215.34 626.17,223.66 629.63,221.66 624.83,213.34" fill="none" stroke="#111" stroke-width="0.9"/>
<line x1="622.54" y1="214.67" x2="627.34" y2="222.98" stroke="#222" stroke-width="0.7"/>
<line x1="623.66" y1="214.02" x2="628.46" y2="222.33" stroke="#222" stroke-width="0.7"/>
<line x1="628.5" y1="222" x2="628.5" y2="239.4" stroke="#111" stroke-width="1.1"/>
<text class="m" x="634" y="212.11" font-size="5.8" textLength="8.1" lengthAdjust="spacingAndGlyphs" fill="#333" font-weight="bold">LBS</text>
<text class="m" x="634" y="217.61" font-size="5.8" textLength="27" lengthAdjust="spacingAndGlyphs" fill="#333" font-weight="bold">7.2kV 200A</text>
<text class="m" x="634" y="223.11" font-size="5.8" textLength="5.4" lengthAdjust="spacingAndGlyphs" fill="#333" font-weight="bold">PF</text>
<text class="m" x="634" y="228.61" font-size="5.8" textLength="27" lengthAdjust="spacingAndGlyphs" fill="#333" font-weight="bold">G30A  40kA</text>
<circle cx="628.5" cy="249.9" r="10.45" fill="none" stroke="#111" stroke-width="1.15"/>
<circle cx="628.5" cy="266.3" r="10.45" fill="none" stroke="#111" stroke-width="1.15"/>
<polyline points="641.1,249 628.5,249 628.5,255.6" fill="none" stroke="#333" stroke-width="1.1"/>
<text class="m" x="641.7" y="248.91" font-size="5.8" textLength="5.4" lengthAdjust="spacingAndGlyphs" fill="#333" font-weight="bold">Tr</text>
<text class="m" x="641.7" y="254.41" font-size="5.8" textLength="21.6" lengthAdjust="spacingAndGlyphs" fill="#333" font-weight="bold">1φ 50kVA</text>
<text class="m" x="641.7" y="259.91" font-size="5.8" textLength="35.1" lengthAdjust="spacingAndGlyphs" fill="#333" font-weight="bold">6600/210-105V</text>
<text class="j" x="643.5" y="270.8" font-size="5" fill="#222" textLength="13.5" lengthAdjust="spacingAndGlyphs">(油入)</text>
<line x1="628.5" y1="276.7" x2="628.5" y2="318.2" stroke="#111" stroke-width="1.1"/>
<polyline points="628.5,277.6 612.8,284.6 612.8,298" fill="none" stroke="#111" stroke-width="1.35"/>
<polygon points="612.9,299.55 616.15,305.18 609.65,305.18" fill="none" stroke="#111" stroke-width="1.25" stroke-linejoin="round"/>
<polygon points="612.9,307.05 609.65,301.43 616.15,301.43" fill="none" stroke="#111" stroke-width="1.25" stroke-linejoin="round"/>
<text class="m" x="611.5" y="313.22" font-size="5.2" textLength="2.5" lengthAdjust="spacingAndGlyphs" fill="#333">3</text>
<line x1="628.5" y1="287.2" x2="636.7" y2="287.2" stroke="#222" stroke-width="1"/>
<rect x="636.7" y="284.5" width="11.3" height="5.6" fill="none" stroke="#555" stroke-width="0.9"/>
<line x1="636.7" y1="287.2" x2="648" y2="287.2" stroke="#777" stroke-width="0.8"/>
<line x1="647.7" y1="284.3" x2="647.7" y2="290.3" stroke="#333" stroke-width="1.2"/>
<text class="m" x="641.3" y="283.12" font-size="4.6" textLength="2.2" lengthAdjust="spacingAndGlyphs" fill="#555">F</text>
<line x1="647.8" y1="287.2" x2="658.5" y2="287.2" stroke="#222" stroke-width="1"/>
<circle cx="655.1" cy="287.2" r="2.6" fill="#fff" stroke="#111" stroke-width="1.25"/>
<line x1="652.5" y1="287.2" x2="657.7" y2="287.2" stroke="#222" stroke-width="0.9"/>
<line x1="655.1" y1="284.6" x2="655.1" y2="289.8" stroke="#222" stroke-width="0.9"/>
<circle cx="663.3" cy="287.2" r="5" fill="#fff" stroke="#111" stroke-width="1.3"/>
<text class="m" x="663.4" y="289.28" font-size="6" textLength="3" lengthAdjust="spacingAndGlyphs" fill="#222" text-anchor="middle">V</text>
<circle cx="628.5" cy="302.9" r="5.4" fill="none" stroke="#111" stroke-width="1.2"/>
<line x1="633.9" y1="302.9" x2="658.5" y2="302.9" stroke="#222" stroke-width="1"/>
<line x1="637.4" y1="305.5" x2="640" y2="300.3" stroke="#111" stroke-width="1.3"/>
<line x1="639.8" y1="305.5" x2="642.4" y2="300.3" stroke="#111" stroke-width="1.3"/>
<circle cx="655.1" cy="302.9" r="2.6" fill="#fff" stroke="#111" stroke-width="1.25"/>
<line x1="653.3" y1="304.8" x2="656.9" y2="301" stroke="#222" stroke-width="1"/>
<line x1="655.1" y1="300.3" x2="655.1" y2="305.5" stroke="#333" stroke-width="0.8"/>
<circle cx="663.3" cy="302.9" r="5" fill="#fff" stroke="#111" stroke-width="1.3"/>
<text class="m" x="663.4" y="304.98" font-size="6" textLength="3" lengthAdjust="spacingAndGlyphs" fill="#222" text-anchor="middle">A</text>
<text class="m" x="633.3" y="313.35" font-size="5.6" textLength="12.4" lengthAdjust="spacingAndGlyphs" fill="#666">CT×2</text>
<line x1="625.5" y1="316.3" x2="631.7" y2="319.3" stroke="#111" stroke-width="1.1"/>
<line x1="625.5" y1="319.3" x2="631.7" y2="316.3" stroke="#111" stroke-width="1.1"/>
<line x1="621.9" y1="317.8" x2="628.6" y2="328.8" stroke="#111" stroke-width="1"/>
<line x1="628.5" y1="328.6" x2="628.5" y2="332.2" stroke="#111" stroke-width="1"/>
<line x1="596.4" y1="332.1" x2="661.4" y2="332.1" stroke="#444" stroke-width="1.1"/>
<line x1="596.4" y1="340.12" x2="661.4" y2="340.12" stroke="#1a1a1a" stroke-width="1.1"/>
<line x1="596.4" y1="348.14" x2="661.4" y2="348.14" stroke="#1a1a1a" stroke-width="1.1"/>
<line x1="596.4" y1="356.16" x2="661.4" y2="356.16" stroke="#1a1a1a" stroke-width="1.1"/>
<line x1="596.4" y1="364.18" x2="661.4" y2="364.18" stroke="#1a1a1a" stroke-width="1.1"/>
<line x1="596.4" y1="372.2" x2="661.4" y2="372.2" stroke="#1a1a1a" stroke-width="1.1"/>
<line x1="596.4" y1="380.22" x2="661.4" y2="380.22" stroke="#1a1a1a" stroke-width="1.1"/>
<line x1="596.4" y1="388.24" x2="661.4" y2="388.24" stroke="#1a1a1a" stroke-width="1.1"/>
<line x1="596.4" y1="396.26" x2="661.4" y2="396.26" stroke="#1a1a1a" stroke-width="1.1"/>
<line x1="596.4" y1="404.28" x2="661.4" y2="404.28" stroke="#1a1a1a" stroke-width="1.1"/>
<line x1="596.4" y1="412.3" x2="661.4" y2="412.3" stroke="#1a1a1a" stroke-width="1.1"/>
<line x1="597.3" y1="331.6" x2="597.3" y2="412.9" stroke="#111" stroke-width="1.9"/>
<line x1="660.9" y1="331.6" x2="660.9" y2="412.9" stroke="#333" stroke-width="1"/>
<text class="m" x="621.1" y="337.75" font-size="5" textLength="2.5" lengthAdjust="spacingAndGlyphs" fill="#333" font-weight="bold">P</text>
<text class="m" x="634.1" y="338.38" font-size="5.4" textLength="3" lengthAdjust="spacingAndGlyphs" fill="#222" font-weight="bold">A</text>
<text class="s" x="637.3" y="338.9" font-size="6.4" fill="#555">×</text>
<text class="m" x="621.1" y="345.75" font-size="5" textLength="2.5" lengthAdjust="spacingAndGlyphs" fill="#333" font-weight="bold">P</text>
<text class="m" x="634.1" y="346.38" font-size="5.4" textLength="3" lengthAdjust="spacingAndGlyphs" fill="#222" font-weight="bold">A</text>
<text class="s" x="637.3" y="346.9" font-size="6.4" fill="#555">×</text>
<text class="m" x="621.1" y="353.75" font-size="5" textLength="2.5" lengthAdjust="spacingAndGlyphs" fill="#333" font-weight="bold">P</text>
<text class="m" x="634.1" y="354.38" font-size="5.4" textLength="3" lengthAdjust="spacingAndGlyphs" fill="#222" font-weight="bold">A</text>
<text class="s" x="637.3" y="354.9" font-size="6.4" fill="#555">×</text>
<text class="m" x="621.1" y="361.75" font-size="5" textLength="2.5" lengthAdjust="spacingAndGlyphs" fill="#333" font-weight="bold">P</text>
<text class="m" x="634.1" y="362.38" font-size="5.4" textLength="3" lengthAdjust="spacingAndGlyphs" fill="#222" font-weight="bold">A</text>
<text class="s" x="637.3" y="362.9" font-size="6.4" fill="#555">×</text>
<text class="m" x="621.1" y="369.75" font-size="5" textLength="2.5" lengthAdjust="spacingAndGlyphs" fill="#333" font-weight="bold">P</text>
<text class="m" x="634.1" y="370.38" font-size="5.4" textLength="3" lengthAdjust="spacingAndGlyphs" fill="#222" font-weight="bold">A</text>
<text class="s" x="637.3" y="370.9" font-size="6.4" fill="#555">×</text>
<text class="m" x="621.1" y="377.75" font-size="5" textLength="2.5" lengthAdjust="spacingAndGlyphs" fill="#333" font-weight="bold">P</text>
<text class="m" x="634.1" y="378.38" font-size="5.4" textLength="3" lengthAdjust="spacingAndGlyphs" fill="#222" font-weight="bold">A</text>
<text class="s" x="637.3" y="378.9" font-size="6.4" fill="#555">×</text>
<text class="m" x="621.1" y="385.75" font-size="5" textLength="2.5" lengthAdjust="spacingAndGlyphs" fill="#333" font-weight="bold">P</text>
<text class="m" x="634.1" y="386.38" font-size="5.4" textLength="3" lengthAdjust="spacingAndGlyphs" fill="#222" font-weight="bold">A</text>
<text class="s" x="637.3" y="386.9" font-size="6.4" fill="#555">×</text>
<text class="m" x="621.1" y="393.75" font-size="5" textLength="2.5" lengthAdjust="spacingAndGlyphs" fill="#333" font-weight="bold">P</text>
<text class="m" x="634.1" y="394.38" font-size="5.4" textLength="3" lengthAdjust="spacingAndGlyphs" fill="#222" font-weight="bold">A</text>
<text class="s" x="637.3" y="394.9" font-size="6.4" fill="#555">×</text>
<text class="m" x="621.1" y="401.75" font-size="5" textLength="2.5" lengthAdjust="spacingAndGlyphs" fill="#333" font-weight="bold">P</text>
<text class="m" x="634.1" y="402.38" font-size="5.4" textLength="3" lengthAdjust="spacingAndGlyphs" fill="#222" font-weight="bold">A</text>
<text class="s" x="637.3" y="402.9" font-size="6.4" fill="#555">×</text>
<text class="m" x="621.1" y="409.75" font-size="5" textLength="2.5" lengthAdjust="spacingAndGlyphs" fill="#333" font-weight="bold">P</text>
<text class="m" x="634.1" y="410.38" font-size="5.4" textLength="3" lengthAdjust="spacingAndGlyphs" fill="#222" font-weight="bold">A</text>
<text class="s" x="637.3" y="410.9" font-size="6.4" fill="#555">×</text>
<line x1="717.55" y1="202.6" x2="717.55" y2="213.7" stroke="#111" stroke-width="1.1"/>
<line x1="711.15" y1="213.7" x2="720.75" y2="213.7" stroke="#222" stroke-width="0.9"/>
<polygon points="710.42,215.34 715.22,223.66 718.68,221.66 713.88,213.34" fill="none" stroke="#111" stroke-width="0.9"/>
<line x1="711.59" y1="214.67" x2="716.39" y2="222.98" stroke="#222" stroke-width="0.7"/>
<line x1="712.71" y1="214.02" x2="717.51" y2="222.33" stroke="#222" stroke-width="0.7"/>
<line x1="717.55" y1="222" x2="717.55" y2="239.4" stroke="#111" stroke-width="1.1"/>
<text class="m" x="723.05" y="212.11" font-size="5.8" textLength="8.1" lengthAdjust="spacingAndGlyphs" fill="#333" font-weight="bold">LBS</text>
<text class="m" x="723.05" y="217.61" font-size="5.8" textLength="27" lengthAdjust="spacingAndGlyphs" fill="#333" font-weight="bold">7.2kV 200A</text>
<text class="m" x="723.05" y="223.11" font-size="5.8" textLength="5.4" lengthAdjust="spacingAndGlyphs" fill="#333" font-weight="bold">PF</text>
<text class="m" x="723.05" y="228.61" font-size="5.8" textLength="27" lengthAdjust="spacingAndGlyphs" fill="#333" font-weight="bold">G40A  40kA</text>
<circle cx="717.55" cy="249.9" r="10.45" fill="none" stroke="#111" stroke-width="1.15"/>
<circle cx="717.55" cy="266.3" r="10.45" fill="none" stroke="#111" stroke-width="1.15"/>
<polyline points="712.65,244 717.55,249.5 722.45,244" fill="none" stroke="#111" stroke-width="1.15"/>
<line x1="717.55" y1="249.5" x2="717.55" y2="255.4" stroke="#111" stroke-width="1.15"/>
<polygon points="717.55,262.6 712.35,272.2 722.75,272.2" fill="none" stroke="#111" stroke-width="1.15"/>
<text class="m" x="730.75" y="248.91" font-size="5.8" textLength="5.4" lengthAdjust="spacingAndGlyphs" fill="#333" font-weight="bold">Tr</text>
<text class="m" x="730.75" y="254.41" font-size="5.8" textLength="24.3" lengthAdjust="spacingAndGlyphs" fill="#333" font-weight="bold">3φ 200kVA</text>
<text class="m" x="730.75" y="259.91" font-size="5.8" textLength="24.3" lengthAdjust="spacingAndGlyphs" fill="#333" font-weight="bold">6600/210V</text>
<text class="j" x="732.55" y="270.8" font-size="5" fill="#222" textLength="13.5" lengthAdjust="spacingAndGlyphs">(油入)</text>
<line x1="717.55" y1="276.7" x2="717.55" y2="318.2" stroke="#111" stroke-width="1.1"/>
<polyline points="717.55,277.6 701.85,284.6 701.85,298" fill="none" stroke="#111" stroke-width="1.35"/>
<polygon points="701.95,299.55 705.2,305.18 698.7,305.18" fill="none" stroke="#111" stroke-width="1.25" stroke-linejoin="round"/>
<polygon points="701.95,307.05 698.7,301.43 705.2,301.43" fill="none" stroke="#111" stroke-width="1.25" stroke-linejoin="round"/>
<text class="m" x="700.55" y="313.22" font-size="5.2" textLength="2.5" lengthAdjust="spacingAndGlyphs" fill="#333">4</text>
<line x1="717.55" y1="287.2" x2="725.75" y2="287.2" stroke="#222" stroke-width="1"/>
<rect x="725.75" y="284.5" width="11.3" height="5.6" fill="none" stroke="#555" stroke-width="0.9"/>
<line x1="725.75" y1="287.2" x2="737.05" y2="287.2" stroke="#777" stroke-width="0.8"/>
<line x1="736.75" y1="284.3" x2="736.75" y2="290.3" stroke="#333" stroke-width="1.2"/>
<text class="m" x="730.35" y="283.12" font-size="4.6" textLength="2.2" lengthAdjust="spacingAndGlyphs" fill="#555">F</text>
<line x1="736.85" y1="287.2" x2="747.55" y2="287.2" stroke="#222" stroke-width="1"/>
<circle cx="744.15" cy="287.2" r="2.6" fill="#fff" stroke="#111" stroke-width="1.25"/>
<line x1="741.55" y1="287.2" x2="746.75" y2="287.2" stroke="#222" stroke-width="0.9"/>
<line x1="744.15" y1="284.6" x2="744.15" y2="289.8" stroke="#222" stroke-width="0.9"/>
<circle cx="752.35" cy="287.2" r="5" fill="#fff" stroke="#111" stroke-width="1.3"/>
<text class="m" x="752.45" y="289.28" font-size="6" textLength="3" lengthAdjust="spacingAndGlyphs" fill="#222" text-anchor="middle">V</text>
<circle cx="717.55" cy="302.9" r="5.4" fill="none" stroke="#111" stroke-width="1.2"/>
<line x1="722.95" y1="302.9" x2="747.55" y2="302.9" stroke="#222" stroke-width="1"/>
<line x1="726.45" y1="305.5" x2="729.05" y2="300.3" stroke="#111" stroke-width="1.3"/>
<line x1="728.85" y1="305.5" x2="731.45" y2="300.3" stroke="#111" stroke-width="1.3"/>
<circle cx="744.15" cy="302.9" r="2.6" fill="#fff" stroke="#111" stroke-width="1.25"/>
<line x1="742.35" y1="304.8" x2="745.95" y2="301" stroke="#222" stroke-width="1"/>
<line x1="744.15" y1="300.3" x2="744.15" y2="305.5" stroke="#333" stroke-width="0.8"/>
<circle cx="752.35" cy="302.9" r="5" fill="#fff" stroke="#111" stroke-width="1.3"/>
<text class="m" x="752.45" y="304.98" font-size="6" textLength="3" lengthAdjust="spacingAndGlyphs" fill="#222" text-anchor="middle">A</text>
<text class="m" x="722.35" y="313.35" font-size="5.6" textLength="12.4" lengthAdjust="spacingAndGlyphs" fill="#666">CT×2</text>
<line x1="714.55" y1="316.3" x2="720.75" y2="319.3" stroke="#111" stroke-width="1.1"/>
<line x1="714.55" y1="319.3" x2="720.75" y2="316.3" stroke="#111" stroke-width="1.1"/>
<line x1="710.95" y1="317.8" x2="717.65" y2="328.8" stroke="#111" stroke-width="1"/>
<line x1="717.55" y1="328.6" x2="717.55" y2="332.2" stroke="#111" stroke-width="1"/>
<line x1="685.45" y1="332.1" x2="750.45" y2="332.1" stroke="#444" stroke-width="1.1"/>
<line x1="685.45" y1="340.12" x2="750.45" y2="340.12" stroke="#1a1a1a" stroke-width="1.1"/>
<line x1="685.45" y1="348.14" x2="750.45" y2="348.14" stroke="#1a1a1a" stroke-width="1.1"/>
<line x1="685.45" y1="356.16" x2="750.45" y2="356.16" stroke="#1a1a1a" stroke-width="1.1"/>
<line x1="685.45" y1="364.18" x2="750.45" y2="364.18" stroke="#1a1a1a" stroke-width="1.1"/>
<line x1="685.45" y1="372.2" x2="750.45" y2="372.2" stroke="#1a1a1a" stroke-width="1.1"/>
<line x1="685.45" y1="380.22" x2="750.45" y2="380.22" stroke="#1a1a1a" stroke-width="1.1"/>
<line x1="685.45" y1="388.24" x2="750.45" y2="388.24" stroke="#1a1a1a" stroke-width="1.1"/>
<line x1="685.45" y1="396.26" x2="750.45" y2="396.26" stroke="#1a1a1a" stroke-width="1.1"/>
<line x1="685.45" y1="404.28" x2="750.45" y2="404.28" stroke="#1a1a1a" stroke-width="1.1"/>
<line x1="685.45" y1="412.3" x2="750.45" y2="412.3" stroke="#1a1a1a" stroke-width="1.1"/>
<line x1="686.05" y1="331.6" x2="686.05" y2="412.9" stroke="#111" stroke-width="1.2"/>
<line x1="749.95" y1="331.6" x2="749.95" y2="412.9" stroke="#333" stroke-width="1"/>
<text class="m" x="710.15" y="337.75" font-size="5" textLength="2.5" lengthAdjust="spacingAndGlyphs" fill="#333" font-weight="bold">P</text>
<text class="m" x="723.15" y="338.38" font-size="5.4" textLength="3" lengthAdjust="spacingAndGlyphs" fill="#222" font-weight="bold">A</text>
<text class="s" x="726.35" y="338.9" font-size="6.4" fill="#555">×</text>
<text class="m" x="710.15" y="345.75" font-size="5" textLength="2.5" lengthAdjust="spacingAndGlyphs" fill="#333" font-weight="bold">P</text>
<text class="m" x="723.15" y="346.38" font-size="5.4" textLength="3" lengthAdjust="spacingAndGlyphs" fill="#222" font-weight="bold">A</text>
<text class="s" x="726.35" y="346.9" font-size="6.4" fill="#555">×</text>
<text class="m" x="710.15" y="353.75" font-size="5" textLength="2.5" lengthAdjust="spacingAndGlyphs" fill="#333" font-weight="bold">P</text>
<text class="m" x="723.15" y="354.38" font-size="5.4" textLength="3" lengthAdjust="spacingAndGlyphs" fill="#222" font-weight="bold">A</text>
<text class="s" x="726.35" y="354.9" font-size="6.4" fill="#555">×</text>
<text class="m" x="710.15" y="361.75" font-size="5" textLength="2.5" lengthAdjust="spacingAndGlyphs" fill="#333" font-weight="bold">P</text>
<text class="m" x="723.15" y="362.38" font-size="5.4" textLength="3" lengthAdjust="spacingAndGlyphs" fill="#222" font-weight="bold">A</text>
<text class="s" x="726.35" y="362.9" font-size="6.4" fill="#555">×</text>
<text class="m" x="710.15" y="369.75" font-size="5" textLength="2.5" lengthAdjust="spacingAndGlyphs" fill="#333" font-weight="bold">P</text>
<text class="m" x="723.15" y="370.38" font-size="5.4" textLength="3" lengthAdjust="spacingAndGlyphs" fill="#222" font-weight="bold">A</text>
<text class="s" x="726.35" y="370.9" font-size="6.4" fill="#555">×</text>
<text class="m" x="710.15" y="377.75" font-size="5" textLength="2.5" lengthAdjust="spacingAndGlyphs" fill="#333" font-weight="bold">P</text>
<text class="m" x="723.15" y="378.38" font-size="5.4" textLength="3" lengthAdjust="spacingAndGlyphs" fill="#222" font-weight="bold">A</text>
<text class="s" x="726.35" y="378.9" font-size="6.4" fill="#555">×</text>
<text class="m" x="710.15" y="385.75" font-size="5" textLength="2.5" lengthAdjust="spacingAndGlyphs" fill="#333" font-weight="bold">P</text>
<text class="m" x="723.15" y="386.38" font-size="5.4" textLength="3" lengthAdjust="spacingAndGlyphs" fill="#222" font-weight="bold">A</text>
<text class="s" x="726.35" y="386.9" font-size="6.4" fill="#555">×</text>
<text class="m" x="710.15" y="393.75" font-size="5" textLength="2.5" lengthAdjust="spacingAndGlyphs" fill="#333" font-weight="bold">P</text>
<text class="m" x="723.15" y="394.38" font-size="5.4" textLength="3" lengthAdjust="spacingAndGlyphs" fill="#222" font-weight="bold">A</text>
<text class="s" x="726.35" y="394.9" font-size="6.4" fill="#555">×</text>
<text class="m" x="710.15" y="401.75" font-size="5" textLength="2.5" lengthAdjust="spacingAndGlyphs" fill="#333" font-weight="bold">P</text>
<text class="m" x="723.15" y="402.38" font-size="5.4" textLength="3" lengthAdjust="spacingAndGlyphs" fill="#222" font-weight="bold">A</text>
<text class="s" x="726.35" y="402.9" font-size="6.4" fill="#555">×</text>
<text class="m" x="710.15" y="409.75" font-size="5" textLength="2.5" lengthAdjust="spacingAndGlyphs" fill="#333" font-weight="bold">P</text>
<text class="m" x="723.15" y="410.38" font-size="5.4" textLength="3" lengthAdjust="spacingAndGlyphs" fill="#222" font-weight="bold">A</text>
<text class="s" x="726.35" y="410.9" font-size="6.4" fill="#555">×</text>
<line x1="806.6" y1="202.6" x2="806.6" y2="213.7" stroke="#111" stroke-width="1.1"/>
<line x1="800.2" y1="213.7" x2="809.8" y2="213.7" stroke="#222" stroke-width="0.9"/>
<polygon points="799.47,215.34 804.27,223.66 807.73,221.66 802.93,213.34" fill="none" stroke="#111" stroke-width="0.9"/>
<line x1="800.64" y1="214.67" x2="805.44" y2="222.98" stroke="#222" stroke-width="0.7"/>
<line x1="801.76" y1="214.02" x2="806.56" y2="222.33" stroke="#222" stroke-width="0.7"/>
<line x1="806.6" y1="222" x2="806.6" y2="239.4" stroke="#111" stroke-width="1.1"/>
<text class="m" x="812.1" y="212.11" font-size="5.8" textLength="8.1" lengthAdjust="spacingAndGlyphs" fill="#333" font-weight="bold">LBS</text>
<text class="m" x="812.1" y="217.61" font-size="5.8" textLength="27" lengthAdjust="spacingAndGlyphs" fill="#333" font-weight="bold">7.2kV 200A</text>
<text class="m" x="812.1" y="223.11" font-size="5.8" textLength="5.4" lengthAdjust="spacingAndGlyphs" fill="#333" font-weight="bold">PF</text>
<text class="m" x="812.1" y="228.61" font-size="5.8" textLength="27" lengthAdjust="spacingAndGlyphs" fill="#333" font-weight="bold">G40A  40kA</text>
<circle cx="806.6" cy="249.9" r="10.45" fill="none" stroke="#111" stroke-width="1.15"/>
<circle cx="806.6" cy="266.3" r="10.45" fill="none" stroke="#111" stroke-width="1.15"/>
<polyline points="801.7,244 806.6,249.5 811.5,244" fill="none" stroke="#111" stroke-width="1.15"/>
<line x1="806.6" y1="249.5" x2="806.6" y2="255.4" stroke="#111" stroke-width="1.15"/>
<polygon points="806.6,262.6 801.4,272.2 811.8,272.2" fill="none" stroke="#111" stroke-width="1.15"/>
<text class="m" x="819.8" y="248.91" font-size="5.8" textLength="5.4" lengthAdjust="spacingAndGlyphs" fill="#333" font-weight="bold">Tr</text>
<text class="m" x="819.8" y="254.41" font-size="5.8" textLength="24.3" lengthAdjust="spacingAndGlyphs" fill="#333" font-weight="bold">3φ 200kVA</text>
<text class="m" x="819.8" y="259.91" font-size="5.8" textLength="24.3" lengthAdjust="spacingAndGlyphs" fill="#333" font-weight="bold">6600/210V</text>
<text class="j" x="821.6" y="270.8" font-size="5" fill="#222" textLength="13.5" lengthAdjust="spacingAndGlyphs">(油入)</text>
<line x1="806.6" y1="276.7" x2="806.6" y2="318.2" stroke="#111" stroke-width="1.1"/>
<polyline points="806.6,277.6 790.9,284.6 790.9,298" fill="none" stroke="#111" stroke-width="1.35"/>
<polygon points="791,299.55 794.25,305.18 787.75,305.18" fill="none" stroke="#111" stroke-width="1.25" stroke-linejoin="round"/>
<polygon points="791,307.05 787.75,301.43 794.25,301.43" fill="none" stroke="#111" stroke-width="1.25" stroke-linejoin="round"/>
<text class="m" x="789.6" y="313.22" font-size="5.2" textLength="2.5" lengthAdjust="spacingAndGlyphs" fill="#333">5</text>
<line x1="806.6" y1="287.2" x2="814.8" y2="287.2" stroke="#222" stroke-width="1"/>
<rect x="814.8" y="284.5" width="11.3" height="5.6" fill="none" stroke="#555" stroke-width="0.9"/>
<line x1="814.8" y1="287.2" x2="826.1" y2="287.2" stroke="#777" stroke-width="0.8"/>
<line x1="825.8" y1="284.3" x2="825.8" y2="290.3" stroke="#333" stroke-width="1.2"/>
<text class="m" x="819.4" y="283.12" font-size="4.6" textLength="2.2" lengthAdjust="spacingAndGlyphs" fill="#555">F</text>
<line x1="825.9" y1="287.2" x2="836.6" y2="287.2" stroke="#222" stroke-width="1"/>
<circle cx="833.2" cy="287.2" r="2.6" fill="#fff" stroke="#111" stroke-width="1.25"/>
<line x1="830.6" y1="287.2" x2="835.8" y2="287.2" stroke="#222" stroke-width="0.9"/>
<line x1="833.2" y1="284.6" x2="833.2" y2="289.8" stroke="#222" stroke-width="0.9"/>
<circle cx="841.4" cy="287.2" r="5" fill="#fff" stroke="#111" stroke-width="1.3"/>
<text class="m" x="841.5" y="289.28" font-size="6" textLength="3" lengthAdjust="spacingAndGlyphs" fill="#222" text-anchor="middle">V</text>
<circle cx="806.6" cy="302.9" r="5.4" fill="none" stroke="#111" stroke-width="1.2"/>
<line x1="812" y1="302.9" x2="836.6" y2="302.9" stroke="#222" stroke-width="1"/>
<line x1="815.5" y1="305.5" x2="818.1" y2="300.3" stroke="#111" stroke-width="1.3"/>
<line x1="817.9" y1="305.5" x2="820.5" y2="300.3" stroke="#111" stroke-width="1.3"/>
<circle cx="833.2" cy="302.9" r="2.6" fill="#fff" stroke="#111" stroke-width="1.25"/>
<line x1="831.4" y1="304.8" x2="835" y2="301" stroke="#222" stroke-width="1"/>
<line x1="833.2" y1="300.3" x2="833.2" y2="305.5" stroke="#333" stroke-width="0.8"/>
<circle cx="841.4" cy="302.9" r="5" fill="#fff" stroke="#111" stroke-width="1.3"/>
<text class="m" x="841.5" y="304.98" font-size="6" textLength="3" lengthAdjust="spacingAndGlyphs" fill="#222" text-anchor="middle">A</text>
<text class="m" x="811.4" y="313.35" font-size="5.6" textLength="12.4" lengthAdjust="spacingAndGlyphs" fill="#666">CT×2</text>
<line x1="803.6" y1="316.3" x2="809.8" y2="319.3" stroke="#111" stroke-width="1.1"/>
<line x1="803.6" y1="319.3" x2="809.8" y2="316.3" stroke="#111" stroke-width="1.1"/>
<line x1="800" y1="317.8" x2="806.7" y2="328.8" stroke="#111" stroke-width="1"/>
<line x1="806.6" y1="328.6" x2="806.6" y2="332.2" stroke="#111" stroke-width="1"/>
<line x1="774.5" y1="332.1" x2="839.5" y2="332.1" stroke="#444" stroke-width="1.1"/>
<line x1="774.5" y1="340.12" x2="839.5" y2="340.12" stroke="#1a1a1a" stroke-width="1.1"/>
<line x1="774.5" y1="348.14" x2="839.5" y2="348.14" stroke="#1a1a1a" stroke-width="1.1"/>
<line x1="774.5" y1="356.16" x2="839.5" y2="356.16" stroke="#1a1a1a" stroke-width="1.1"/>
<line x1="774.5" y1="364.18" x2="839.5" y2="364.18" stroke="#1a1a1a" stroke-width="1.1"/>
<line x1="774.5" y1="372.2" x2="839.5" y2="372.2" stroke="#1a1a1a" stroke-width="1.1"/>
<line x1="774.5" y1="380.22" x2="839.5" y2="380.22" stroke="#1a1a1a" stroke-width="1.1"/>
<line x1="774.5" y1="388.24" x2="839.5" y2="388.24" stroke="#1a1a1a" stroke-width="1.1"/>
<line x1="774.5" y1="396.26" x2="839.5" y2="396.26" stroke="#1a1a1a" stroke-width="1.1"/>
<line x1="774.5" y1="404.28" x2="839.5" y2="404.28" stroke="#1a1a1a" stroke-width="1.1"/>
<line x1="774.5" y1="412.3" x2="839.5" y2="412.3" stroke="#1a1a1a" stroke-width="1.1"/>
<line x1="775.1" y1="331.6" x2="775.1" y2="412.9" stroke="#111" stroke-width="1.2"/>
<line x1="839" y1="331.6" x2="839" y2="412.9" stroke="#333" stroke-width="1"/>
<text class="m" x="799.2" y="337.75" font-size="5" textLength="2.5" lengthAdjust="spacingAndGlyphs" fill="#333" font-weight="bold">P</text>
<text class="m" x="812.2" y="338.38" font-size="5.4" textLength="3" lengthAdjust="spacingAndGlyphs" fill="#222" font-weight="bold">A</text>
<text class="s" x="815.4" y="338.9" font-size="6.4" fill="#555">×</text>
<text class="m" x="799.2" y="345.75" font-size="5" textLength="2.5" lengthAdjust="spacingAndGlyphs" fill="#333" font-weight="bold">P</text>
<text class="m" x="812.2" y="346.38" font-size="5.4" textLength="3" lengthAdjust="spacingAndGlyphs" fill="#222" font-weight="bold">A</text>
<text class="s" x="815.4" y="346.9" font-size="6.4" fill="#555">×</text>
<text class="m" x="799.2" y="353.75" font-size="5" textLength="2.5" lengthAdjust="spacingAndGlyphs" fill="#333" font-weight="bold">P</text>
<text class="m" x="812.2" y="354.38" font-size="5.4" textLength="3" lengthAdjust="spacingAndGlyphs" fill="#222" font-weight="bold">A</text>
<text class="s" x="815.4" y="354.9" font-size="6.4" fill="#555">×</text>
<text class="m" x="799.2" y="361.75" font-size="5" textLength="2.5" lengthAdjust="spacingAndGlyphs" fill="#333" font-weight="bold">P</text>
<text class="m" x="812.2" y="362.38" font-size="5.4" textLength="3" lengthAdjust="spacingAndGlyphs" fill="#222" font-weight="bold">A</text>
<text class="s" x="815.4" y="362.9" font-size="6.4" fill="#555">×</text>
<text class="m" x="799.2" y="369.75" font-size="5" textLength="2.5" lengthAdjust="spacingAndGlyphs" fill="#333" font-weight="bold">P</text>
<text class="m" x="812.2" y="370.38" font-size="5.4" textLength="3" lengthAdjust="spacingAndGlyphs" fill="#222" font-weight="bold">A</text>
<text class="s" x="815.4" y="370.9" font-size="6.4" fill="#555">×</text>
<text class="m" x="799.2" y="377.75" font-size="5" textLength="2.5" lengthAdjust="spacingAndGlyphs" fill="#333" font-weight="bold">P</text>
<text class="m" x="812.2" y="378.38" font-size="5.4" textLength="3" lengthAdjust="spacingAndGlyphs" fill="#222" font-weight="bold">A</text>
<text class="s" x="815.4" y="378.9" font-size="6.4" fill="#555">×</text>
<text class="m" x="799.2" y="385.75" font-size="5" textLength="2.5" lengthAdjust="spacingAndGlyphs" fill="#333" font-weight="bold">P</text>
<text class="m" x="812.2" y="386.38" font-size="5.4" textLength="3" lengthAdjust="spacingAndGlyphs" fill="#222" font-weight="bold">A</text>
<text class="s" x="815.4" y="386.9" font-size="6.4" fill="#555">×</text>
<text class="m" x="799.2" y="393.75" font-size="5" textLength="2.5" lengthAdjust="spacingAndGlyphs" fill="#333" font-weight="bold">P</text>
<text class="m" x="812.2" y="394.38" font-size="5.4" textLength="3" lengthAdjust="spacingAndGlyphs" fill="#222" font-weight="bold">A</text>
<text class="s" x="815.4" y="394.9" font-size="6.4" fill="#555">×</text>
<text class="m" x="799.2" y="401.75" font-size="5" textLength="2.5" lengthAdjust="spacingAndGlyphs" fill="#333" font-weight="bold">P</text>
<text class="m" x="812.2" y="402.38" font-size="5.4" textLength="3" lengthAdjust="spacingAndGlyphs" fill="#222" font-weight="bold">A</text>
<text class="s" x="815.4" y="402.9" font-size="6.4" fill="#555">×</text>
<text class="m" x="799.2" y="409.75" font-size="5" textLength="2.5" lengthAdjust="spacingAndGlyphs" fill="#333" font-weight="bold">P</text>
<text class="m" x="812.2" y="410.38" font-size="5.4" textLength="3" lengthAdjust="spacingAndGlyphs" fill="#222" font-weight="bold">A</text>
<text class="s" x="815.4" y="410.9" font-size="6.4" fill="#555">×</text>
</g>
</svg>
</body></html>
